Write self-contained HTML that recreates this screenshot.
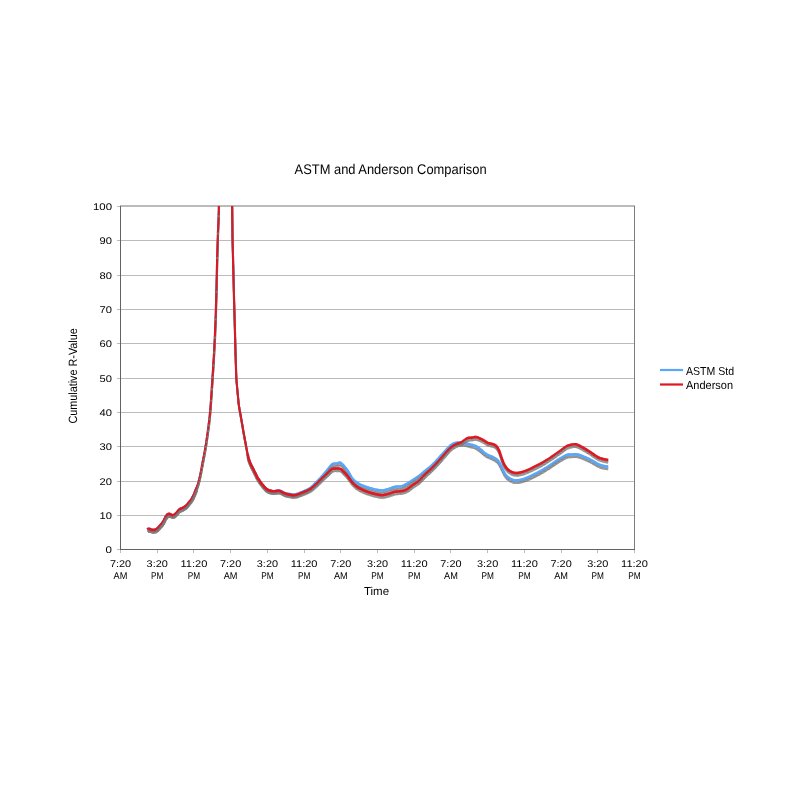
<!DOCTYPE html>
<html><head><meta charset="utf-8"><style>
html,body{margin:0;padding:0;background:#fff;}
body{width:800px;height:800px;overflow:hidden;position:relative;}
svg{position:absolute;left:0;top:0;will-change:transform;}
text{font-family:"Liberation Sans",sans-serif;fill:#000;text-rendering:geometricPrecision;}
.g{stroke:#bbbbbb;stroke-width:1;}
.ax{stroke:#626262;stroke-width:1;}
.rb{stroke:#7c7c7c;stroke-width:1;}
.xt{stroke:#bcbcbc;stroke-width:1;}
.yl{font-size:9.7px;text-anchor:end;fill:#000;}
.xl{font-size:9.7px;text-anchor:middle;fill:#000;}
.sh{fill:none;stroke:#7a7a7a;stroke-width:2.6;stroke-linejoin:round;stroke-linecap:butt;}
.s{fill:none;stroke:#7a7a7a;stroke-width:2.6;stroke-linecap:butt;transform:translate(0.2px,2.4px);}
.bl{fill:none;stroke:#5aa6f8;stroke-width:2.5;stroke-linejoin:round;stroke-linecap:butt;}
.rd{fill:none;stroke:#dc1820;stroke-width:2.5;stroke-linejoin:round;stroke-linecap:butt;}
</style></head><body>
<svg width="800" height="800" viewBox="0 0 800 800">
<defs><clipPath id="pc"><rect x="120" y="206" width="514" height="343"/></clipPath></defs>
<g><line x1="117" y1="515.5" x2="634" y2="515.5" class="g"/><line x1="117" y1="481.5" x2="634" y2="481.5" class="g"/><line x1="117" y1="446.5" x2="634" y2="446.5" class="g"/><line x1="117" y1="412.5" x2="634" y2="412.5" class="g"/><line x1="117" y1="378.5" x2="634" y2="378.5" class="g"/><line x1="117" y1="343.5" x2="634" y2="343.5" class="g"/><line x1="117" y1="309.5" x2="634" y2="309.5" class="g"/><line x1="117" y1="275.5" x2="634" y2="275.5" class="g"/><line x1="117" y1="240.5" x2="634" y2="240.5" class="g"/></g>
<rect x="120" y="205" width="515" height="2" fill="#bbbbbb"/>
<line x1="117" y1="206.5" x2="120" y2="206.5" class="g"/>
<line x1="634.5" y1="206" x2="634.5" y2="550" class="rb"/>
<line x1="120" y1="549.5" x2="635" y2="549.5" class="ax"/>
<line x1="117" y1="549.5" x2="120" y2="549.5" class="g"/>
<line x1="120.5" y1="206" x2="120.5" y2="550" class="ax"/>
<g><line x1="120.5" y1="550" x2="120.5" y2="553" class="xt"/><line x1="157.5" y1="550" x2="157.5" y2="553" class="xt"/><line x1="193.5" y1="550" x2="193.5" y2="553" class="xt"/><line x1="230.5" y1="550" x2="230.5" y2="553" class="xt"/><line x1="267.5" y1="550" x2="267.5" y2="553" class="xt"/><line x1="304.5" y1="550" x2="304.5" y2="553" class="xt"/><line x1="340.5" y1="550" x2="340.5" y2="553" class="xt"/><line x1="377.5" y1="550" x2="377.5" y2="553" class="xt"/><line x1="414.5" y1="550" x2="414.5" y2="553" class="xt"/><line x1="450.5" y1="550" x2="450.5" y2="553" class="xt"/><line x1="487.5" y1="550" x2="487.5" y2="553" class="xt"/><line x1="524.5" y1="550" x2="524.5" y2="553" class="xt"/><line x1="561.5" y1="550" x2="561.5" y2="553" class="xt"/><line x1="597.5" y1="550" x2="597.5" y2="553" class="xt"/><line x1="634.5" y1="550" x2="634.5" y2="553" class="xt"/></g>
<g clip-path="url(#pc)">
<path d="M147.54 529.38L148.30 528.77" class="s"/><path d="M147.30 529.56L148.54 528.59" class="bl"/><path d="M148.30 528.77L149.07 528.82" class="s"/><path d="M148.00 528.76L149.36 528.84" class="bl"/><path d="M149.07 528.82L149.83 529.10" class="s"/><path d="M148.78 528.71L150.11 529.20" class="bl"/><path d="M149.83 529.10L150.60 529.43" class="s"/><path d="M149.55 528.98L150.87 529.54" class="bl"/><path d="M150.60 529.43L151.36 529.72" class="s"/><path d="M150.32 529.32L151.64 529.83" class="bl"/><path d="M151.36 529.72L152.12 529.94" class="s"/><path d="M151.07 529.64L152.41 530.03" class="bl"/><path d="M152.12 529.94L152.89 530.03" class="s"/><path d="M151.83 529.91L153.19 530.06" class="bl"/><path d="M152.89 530.03L153.65 530.06" class="s"/><path d="M152.59 530.02L153.95 530.07" class="bl"/><path d="M153.65 530.06L154.42 530.01" class="s"/><path d="M153.36 530.07L154.72 529.99" class="bl"/><path d="M154.42 530.01L155.18 529.86" class="s"/><path d="M154.13 530.07L155.48 529.80" class="bl"/><path d="M155.18 529.86L155.95 529.56" class="s"/><path d="M154.90 529.96L156.23 529.45" class="bl"/><path d="M155.95 529.56L156.71 529.08" class="s"/><path d="M155.69 529.72L156.97 528.93" class="bl"/><path d="M156.71 529.08L157.48 528.41" class="s"/><path d="M156.49 529.28L157.70 528.21" class="bl"/><path d="M157.48 528.41L158.24 527.61" class="s"/><path d="M157.27 528.63L158.45 527.39" class="bl"/><path d="M158.24 527.61L159.01 526.73" class="s"/><path d="M158.05 527.83L159.21 526.51" class="bl"/><path d="M159.01 526.73L159.77 525.85" class="s"/><path d="M158.81 526.96L159.97 525.62" class="bl"/><path d="M159.77 525.85L160.54 525.02" class="s"/><path d="M159.57 526.07L160.74 524.80" class="bl"/><path d="M160.54 525.02L161.30 524.19" class="s"/><path d="M160.34 525.24L161.51 523.97" class="bl"/><path d="M161.30 524.19L162.07 523.31" class="s"/><path d="M161.11 524.41L162.27 523.08" class="bl"/><path d="M162.07 523.31L162.83 522.30" class="s"/><path d="M161.89 523.55L163.01 522.06" class="bl"/><path d="M162.83 522.30L163.60 521.03" class="s"/><path d="M162.68 522.56L163.75 520.77" class="bl"/><path d="M163.60 521.03L164.36 519.40" class="s"/><path d="M163.47 521.30L164.49 519.13" class="bl"/><path d="M164.36 519.40L165.13 517.74" class="s"/><path d="M164.24 519.67L165.25 517.47" class="bl"/><path d="M165.13 517.74L165.89 516.46" class="s"/><path d="M164.97 518.00L166.05 516.20" class="bl"/><path d="M165.89 516.46L166.66 515.45" class="s"/><path d="M165.71 516.70L166.84 515.21" class="bl"/><path d="M166.66 515.45L167.42 514.64" class="s"/><path d="M166.45 515.67L167.63 514.42" class="bl"/><path d="M167.42 514.64L168.19 514.05" class="s"/><path d="M167.19 514.82L168.42 513.86" class="bl"/><path d="M168.19 514.05L168.95 513.84" class="s"/><path d="M167.90 514.12L169.24 513.77" class="bl"/><path d="M168.95 513.84L169.72 514.03" class="s"/><path d="M168.66 513.78L170.01 514.09" class="bl"/><path d="M169.72 514.03L170.48 514.29" class="s"/><path d="M169.43 513.93L170.77 514.38" class="bl"/><path d="M170.48 514.29L171.25 514.71" class="s"/><path d="M170.22 514.14L171.51 514.86" class="bl"/><path d="M171.25 514.71L172.01 515.10" class="s"/><path d="M170.98 514.57L172.28 515.24" class="bl"/><path d="M172.01 515.10L172.78 515.31" class="s"/><path d="M171.72 515.03L173.07 515.39" class="bl"/><path d="M172.78 515.31L173.54 515.18" class="s"/><path d="M172.48 515.36L173.84 515.13" class="bl"/><path d="M173.54 515.18L174.31 514.77" class="s"/><path d="M173.28 515.32L174.57 514.63" class="bl"/><path d="M174.31 514.77L175.07 514.18" class="s"/><path d="M174.07 514.95L175.31 514.00" class="bl"/><path d="M175.07 514.18L175.84 513.49" class="s"/><path d="M174.85 514.38L176.06 513.29" class="bl"/><path d="M175.84 513.49L176.60 512.74" class="s"/><path d="M175.62 513.70L176.82 512.53" class="bl"/><path d="M176.60 512.74L177.37 511.81" class="s"/><path d="M176.41 512.97L177.56 511.57" class="bl"/><path d="M177.37 511.81L178.13 510.80" class="s"/><path d="M177.18 512.04L178.31 510.56" class="bl"/><path d="M178.13 510.80L178.90 509.88" class="s"/><path d="M177.94 511.03L179.09 509.65" class="bl"/><path d="M178.90 509.88L179.66 509.21" class="s"/><path d="M178.67 510.07L179.89 509.01" class="bl"/><path d="M179.66 509.21L180.43 508.83" class="s"/><path d="M179.39 509.34L180.69 508.70" class="bl"/><path d="M180.43 508.83L181.19 508.60" class="s"/><path d="M180.14 508.92L181.48 508.51" class="bl"/><path d="M181.19 508.60L181.96 508.35" class="s"/><path d="M180.90 508.69L182.24 508.26" class="bl"/><path d="M181.96 508.35L182.72 507.98" class="s"/><path d="M181.69 508.49L182.99 507.84" class="bl"/><path d="M182.72 507.98L183.49 507.54" class="s"/><path d="M182.46 508.13L183.75 507.39" class="bl"/><path d="M183.49 507.54L184.25 507.08" class="s"/><path d="M183.23 507.70L184.51 506.92" class="bl"/><path d="M184.25 507.08L185.01 506.57" class="s"/><path d="M184.00 507.24L185.26 506.40" class="bl"/><path d="M185.01 506.57L185.78 506.00" class="s"/><path d="M184.77 506.75L186.02 505.82" class="bl"/><path d="M185.78 506.00L186.54 505.33" class="s"/><path d="M185.55 506.20L186.77 505.13" class="bl"/><path d="M186.54 505.33L187.31 504.52" class="s"/><path d="M186.34 505.54L187.52 504.31" class="bl"/><path d="M187.31 504.52L188.07 503.61" class="s"/><path d="M187.12 504.75L188.27 503.38" class="bl"/><path d="M188.07 503.61L188.84 502.63" class="s"/><path d="M187.89 503.85L189.02 502.39" class="bl"/><path d="M188.84 502.63L189.60 501.64" class="s"/><path d="M188.66 502.87L189.79 501.40" class="bl"/><path d="M189.60 501.64L190.37 500.70" class="s"/><path d="M189.41 501.87L190.56 500.47" class="bl"/><path d="M190.37 500.70L191.13 499.72" class="s"/><path d="M190.18 500.94L191.32 499.48" class="bl"/><path d="M191.13 499.72L191.90 498.57" class="s"/><path d="M190.97 499.97L192.07 498.32" class="bl"/><path d="M191.90 498.57L192.66 497.18" class="s"/><path d="M191.75 498.83L192.81 496.92" class="bl"/><path d="M192.66 497.18L193.43 495.61" class="s"/><path d="M192.53 497.45L193.56 495.34" class="bl"/><path d="M193.43 495.61L194.19 493.92" class="s"/><path d="M193.31 495.88L194.32 493.65" class="bl"/><path d="M194.19 493.92L194.96 492.11" class="s"/><path d="M194.08 494.19L195.08 491.83" class="bl"/><path d="M194.96 492.11L195.72 490.17" class="s"/><path d="M194.85 492.39L195.83 489.89" class="bl"/><path d="M195.72 490.17L196.49 488.09" class="s"/><path d="M195.62 490.46L196.59 487.80" class="bl"/><path d="M196.49 488.09L197.25 485.90" class="s" style="stroke-width:2.0"/><path d="M196.39 488.37L197.35 485.62" class="bl" style="stroke-width:2.0"/><path d="M197.25 485.90L198.02 483.54" class="s" style="stroke-width:2.0"/><path d="M197.16 486.19L198.11 483.26" class="bl" style="stroke-width:2.0"/><path d="M198.02 483.54L198.78 480.87" class="s" style="stroke-width:2.0"/><path d="M197.94 483.83L198.87 480.58" class="bl" style="stroke-width:2.0"/><path d="M198.78 480.87L199.55 477.79" class="s" style="stroke-width:2.0"/><path d="M198.71 481.16L199.62 477.50" class="bl" style="stroke-width:2.0"/><path d="M199.55 477.79L200.31 474.24" class="s" style="stroke-width:2.0"/><path d="M199.48 478.09L200.38 473.95" class="bl" style="stroke-width:2.0"/><path d="M200.31 474.24L201.08 470.33" class="s" style="stroke-width:2.0"/><path d="M200.25 474.54L201.14 470.04" class="bl" style="stroke-width:2.0"/><path d="M201.08 470.33L201.84 466.24" class="s" style="stroke-width:2.0"/><path d="M201.02 470.63L201.90 465.94" class="bl" style="stroke-width:2.0"/><path d="M201.84 466.24L202.61 462.09" class="s" style="stroke-width:2.0"/><path d="M201.79 466.53L202.66 461.80" class="bl" style="stroke-width:2.0"/><path d="M202.61 462.09L203.37 458.05" class="s" style="stroke-width:2.0"/><path d="M202.55 462.39L203.43 457.76" class="bl" style="stroke-width:2.0"/><path d="M203.37 458.05L204.14 454.06" class="s" style="stroke-width:2.0"/><path d="M203.32 458.35L204.19 453.77" class="bl" style="stroke-width:2.0"/><path d="M204.14 454.06L204.90 449.95" class="s" style="stroke-width:2.0"/><path d="M204.08 454.36L204.96 449.65" class="bl" style="stroke-width:2.0"/><path d="M204.90 449.95L205.67 445.49" class="s" style="stroke-width:2.0"/><path d="M204.85 450.24L205.72 445.20" class="bl" style="stroke-width:2.0"/><path d="M205.67 445.49L206.43 440.65" class="s" style="stroke-width:2.0"/><path d="M205.62 445.79L206.48 440.35" class="bl" style="stroke-width:2.0"/><path d="M206.43 440.65L207.20 435.27" class="s" style="stroke-width:2.0"/><path d="M206.39 440.94L207.24 434.97" class="bl" style="stroke-width:2.0"/><path d="M207.20 435.27L207.96 429.63" class="s" style="stroke-width:2.0"/><path d="M207.16 435.56L208.00 429.33" class="bl" style="stroke-width:2.0"/><path d="M207.96 429.63L208.73 424.03" class="s" style="stroke-width:2.0"/><path d="M207.92 429.92L208.77 423.74" class="bl" style="stroke-width:2.0"/><path d="M208.73 424.03L209.49 417.66" class="s" style="stroke-width:2.0"/><path d="M208.69 424.33L209.53 417.36" class="bl" style="stroke-width:2.0"/><path d="M209.49 417.66L210.26 409.51" class="s" style="stroke-width:2.0"/><path d="M209.46 417.95L210.28 409.21" class="bl" style="stroke-width:2.0"/><path d="M210.26 409.51L211.02 399.28" class="s" style="stroke-width:2.0"/><path d="M210.23 409.81L211.04 398.98" class="bl" style="stroke-width:2.0"/><path d="M211.02 399.28L211.79 387.81" class="s" style="stroke-width:2.0"/><path d="M211.00 399.58L211.81 387.51" class="bl" style="stroke-width:2.0"/><path d="M211.79 387.81L212.55 375.98" class="s" style="stroke-width:2.0"/><path d="M211.77 388.11L212.57 375.68" class="bl" style="stroke-width:2.0"/><path d="M212.55 375.98L213.32 363.97" class="s" style="stroke-width:2.0"/><path d="M212.53 376.28L213.33 363.67" class="bl" style="stroke-width:2.0"/><path d="M213.32 363.97L214.08 351.12" class="s" style="stroke-width:2.0"/><path d="M213.30 364.27L214.10 350.82" class="bl" style="stroke-width:2.0"/><path d="M214.08 351.12L214.85 336.24" class="s" style="stroke-width:2.0"/><path d="M214.06 351.42L214.86 335.94" class="bl" style="stroke-width:2.0"/><path d="M214.85 336.24L215.61 317.91" class="s" style="stroke-width:2.0"/><path d="M214.83 336.54L215.62 317.61" class="bl" style="stroke-width:2.0"/><path d="M215.61 317.91L216.38 290.36" class="s" style="stroke-width:2.0"/><path d="M215.60 318.21L216.38 290.06" class="bl" style="stroke-width:2.0"/><path d="M216.38 290.36L217.14 256.68" class="s" style="stroke-width:2.0"/><path d="M216.37 290.66L217.15 256.38" class="bl" style="stroke-width:2.0"/><path d="M217.14 256.68L217.90 232.26" class="s" style="stroke-width:2.0"/><path d="M217.13 256.98L217.91 231.96" class="bl" style="stroke-width:2.0"/><path d="M217.90 232.26L218.67 214.81" class="s" style="stroke-width:2.0"/><path d="M217.89 232.56L218.68 214.51" class="bl" style="stroke-width:2.0"/><path d="M218.67 214.81L219.43 168.85" class="s" style="stroke-width:2.0"/><path d="M218.66 215.11L219.44 168.55" class="bl" style="stroke-width:2.0"/><path d="M219.43 168.85L220.20 153.44" class="s" style="stroke-width:2.0"/><path d="M219.42 169.15L220.21 153.14" class="bl" style="stroke-width:2.0"/><path d="M220.20 153.44L220.96 148.88" class="s" style="stroke-width:2.0"/><path d="M220.15 153.74L221.01 148.58" class="bl" style="stroke-width:2.0"/><path d="M220.96 148.88L221.73 146.62" class="s" style="stroke-width:2.0"/><path d="M220.87 149.16L221.83 146.34" class="bl" style="stroke-width:2.0"/><path d="M221.73 146.62L222.49 145.17" class="s" style="stroke-width:2.0"/><path d="M221.59 146.89L222.63 144.90" class="bl" style="stroke-width:2.0"/><path d="M222.49 145.17L223.26 144.18" class="s" style="stroke-width:2.0"/><path d="M222.31 145.40L223.44 143.94" class="bl" style="stroke-width:2.0"/><path d="M223.26 144.18L224.02 143.53" class="s" style="stroke-width:2.0"/><path d="M223.03 144.37L224.25 143.33" class="bl" style="stroke-width:2.0"/><path d="M224.02 143.53L224.79 143.14" class="s" style="stroke-width:2.0"/><path d="M223.76 143.66L225.06 143.01" class="bl" style="stroke-width:2.0"/><path d="M224.79 143.14L225.55 143.00" class="s" style="stroke-width:2.0"/><path d="M224.49 143.20L225.85 142.95" class="bl" style="stroke-width:2.0"/><path d="M225.55 143.00L226.32 143.10" class="s" style="stroke-width:2.0"/><path d="M225.26 142.97L226.62 143.14" class="bl" style="stroke-width:2.0"/><path d="M226.32 143.10L227.08 143.43" class="s" style="stroke-width:2.0"/><path d="M226.04 142.98L227.36 143.55" class="bl" style="stroke-width:2.0"/><path d="M227.08 143.43L227.85 144.04" class="s" style="stroke-width:2.0"/><path d="M226.85 143.25L228.08 144.23" class="bl" style="stroke-width:2.0"/><path d="M227.85 144.04L228.61 144.98" class="s" style="stroke-width:2.0"/><path d="M227.66 143.81L228.80 145.21" class="bl" style="stroke-width:2.0"/><path d="M228.61 144.98L229.38 146.36" class="s" style="stroke-width:2.0"/><path d="M228.47 144.71L229.52 146.62" class="bl" style="stroke-width:2.0"/><path d="M229.38 146.36L230.14 148.50" class="s" style="stroke-width:2.0"/><path d="M229.28 146.07L230.24 148.78" class="bl" style="stroke-width:2.0"/><path d="M230.14 148.50L230.91 152.79" class="s" style="stroke-width:2.0"/><path d="M230.09 148.20L230.96 153.09" class="bl" style="stroke-width:2.0"/><path d="M230.91 152.79L231.67 170.34" class="s" style="stroke-width:2.0"/><path d="M230.89 152.49L231.69 170.64" class="bl" style="stroke-width:2.0"/><path d="M231.67 170.34L232.44 237.53" class="s" style="stroke-width:2.0"/><path d="M231.67 170.04L232.44 237.83" class="bl" style="stroke-width:2.0"/><path d="M232.44 237.53L233.20 267.67" class="s" style="stroke-width:2.0"/><path d="M232.43 237.23L233.21 267.97" class="bl" style="stroke-width:2.0"/><path d="M233.20 267.67L233.97 298.73" class="s" style="stroke-width:2.0"/><path d="M233.19 267.37L233.97 299.03" class="bl" style="stroke-width:2.0"/><path d="M233.97 298.73L234.73 324.98" class="s" style="stroke-width:2.0"/><path d="M233.96 298.43L234.74 325.28" class="bl" style="stroke-width:2.0"/><path d="M234.73 324.98L235.50 354.74" class="s" style="stroke-width:2.0"/><path d="M234.72 324.68L235.50 355.04" class="bl" style="stroke-width:2.0"/><path d="M235.50 354.74L236.26 377.84" class="s" style="stroke-width:2.0"/><path d="M235.49 354.44L236.27 378.14" class="bl" style="stroke-width:2.0"/><path d="M236.26 377.84L237.03 386.40" class="s" style="stroke-width:2.0"/><path d="M236.24 377.54L237.05 386.70" class="bl" style="stroke-width:2.0"/><path d="M237.03 386.40L237.79 394.30" class="s" style="stroke-width:2.0"/><path d="M237.00 386.11L237.82 394.60" class="bl" style="stroke-width:2.0"/><path d="M237.79 394.30L238.56 402.83" class="s" style="stroke-width:2.0"/><path d="M237.76 394.00L238.58 403.13" class="bl" style="stroke-width:2.0"/><path d="M238.56 402.83L239.32 407.99" class="s" style="stroke-width:2.0"/><path d="M238.51 402.53L239.37 408.29" class="bl" style="stroke-width:2.0"/><path d="M239.32 407.99L240.09 412.04" class="s" style="stroke-width:2.0"/><path d="M239.27 407.70L240.14 412.33" class="bl" style="stroke-width:2.0"/><path d="M240.09 412.04L240.85 416.17" class="s" style="stroke-width:2.0"/><path d="M240.03 411.74L240.91 416.47" class="bl" style="stroke-width:2.0"/><path d="M240.85 416.17L241.62 420.58" class="s" style="stroke-width:2.0"/><path d="M240.80 415.88L241.67 420.88" class="bl" style="stroke-width:2.0"/><path d="M241.62 420.58L242.38 425.21" class="s" style="stroke-width:2.0"/><path d="M241.57 420.29L242.43 425.50" class="bl" style="stroke-width:2.0"/><path d="M242.38 425.21L243.15 429.66" class="s" style="stroke-width:2.0"/><path d="M242.33 424.91L243.20 429.95" class="bl" style="stroke-width:2.0"/><path d="M243.15 429.66L243.91 433.92" class="s" style="stroke-width:2.0"/><path d="M243.09 429.36L243.96 434.22" class="bl" style="stroke-width:2.0"/><path d="M243.91 433.92L244.68 438.12" class="s" style="stroke-width:2.0"/><path d="M243.86 433.62L244.73 438.41" class="bl" style="stroke-width:2.0"/><path d="M244.68 438.12L245.44 442.28" class="s" style="stroke-width:2.0"/><path d="M244.62 437.82L245.49 442.58" class="bl" style="stroke-width:2.0"/><path d="M245.44 442.28L246.21 446.43" class="s" style="stroke-width:2.0"/><path d="M245.39 441.99L246.26 446.72" class="bl" style="stroke-width:2.0"/><path d="M246.21 446.43L246.97 450.53" class="s" style="stroke-width:2.0"/><path d="M246.15 446.13L247.03 450.83" class="bl" style="stroke-width:2.0"/><path d="M246.97 450.53L247.74 454.59" class="s" style="stroke-width:2.0"/><path d="M246.91 450.24L247.79 454.89" class="bl" style="stroke-width:2.0"/><path d="M247.74 454.59L248.50 458.38" class="s"/><path d="M247.68 454.30L248.56 458.67" class="bl"/><path d="M248.50 458.38L249.26 460.44" class="s"/><path d="M248.40 458.10L249.37 460.73" class="bl"/><path d="M249.26 460.44L250.03 462.40" class="s"/><path d="M249.16 460.16L250.14 462.68" class="bl"/><path d="M250.03 462.40L250.79 464.18" class="s"/><path d="M249.91 462.13L250.91 464.45" class="bl"/><path d="M250.79 464.18L251.56 465.75" class="s"/><path d="M250.66 463.91L251.69 466.02" class="bl"/><path d="M251.56 465.75L252.32 467.23" class="s"/><path d="M251.42 465.48L252.46 467.50" class="bl"/><path d="M252.32 467.23L253.09 468.70" class="s"/><path d="M252.19 466.97L253.23 468.97" class="bl"/><path d="M253.09 468.70L253.85 470.21" class="s"/><path d="M252.95 468.44L253.99 470.48" class="bl"/><path d="M253.85 470.21L254.62 471.78" class="s"/><path d="M253.72 469.94L254.75 472.05" class="bl"/><path d="M254.62 471.78L255.38 473.37" class="s"/><path d="M254.49 471.51L255.51 473.64" class="bl"/><path d="M255.38 473.37L256.15 474.94" class="s"/><path d="M255.25 473.10L256.28 475.21" class="bl"/><path d="M256.15 474.94L256.91 476.43" class="s"/><path d="M256.01 474.67L257.05 476.70" class="bl"/><path d="M256.91 476.43L257.68 477.81" class="s"/><path d="M256.77 476.17L257.82 478.07" class="bl"/><path d="M257.68 477.81L258.44 479.07" class="s"/><path d="M257.52 477.55L258.60 479.33" class="bl"/><path d="M258.44 479.07L259.21 480.25" class="s"/><path d="M258.28 478.82L259.37 480.50" class="bl"/><path d="M259.21 480.25L259.97 481.35" class="s"/><path d="M259.04 480.00L260.14 481.60" class="bl"/><path d="M259.97 481.35L260.74 482.41" class="s"/><path d="M259.80 481.11L260.91 482.65" class="bl"/><path d="M260.74 482.41L261.50 483.43" class="s"/><path d="M260.56 482.17L261.68 483.67" class="bl"/><path d="M261.50 483.43L262.27 484.41" class="s"/><path d="M261.32 483.20L262.45 484.65" class="bl"/><path d="M262.27 484.41L263.03 485.34" class="s"/><path d="M262.08 484.18L263.22 485.57" class="bl"/><path d="M263.03 485.34L263.80 486.22" class="s"/><path d="M262.84 485.11L263.99 486.44" class="bl"/><path d="M263.80 486.22L264.56 487.05" class="s"/><path d="M263.59 486.00L264.77 487.27" class="bl"/><path d="M264.56 487.05L265.33 487.83" class="s"/><path d="M264.35 486.83L265.54 488.05" class="bl"/><path d="M265.33 487.83L266.09 488.60" class="s"/><path d="M265.12 487.62L266.30 488.81" class="bl"/><path d="M266.09 488.60L266.86 489.26" class="s"/><path d="M265.87 488.40L267.08 489.46" class="bl"/><path d="M266.86 489.26L267.62 489.76" class="s"/><path d="M266.61 489.10L267.87 489.92" class="bl"/><path d="M267.62 489.76L268.39 490.13" class="s"/><path d="M267.35 489.63L268.66 490.26" class="bl"/><path d="M268.39 490.13L269.15 490.42" class="s"/><path d="M268.11 490.02L269.43 490.52" class="bl"/><path d="M269.15 490.42L269.92 490.66" class="s"/><path d="M268.87 490.33L270.20 490.75" class="bl"/><path d="M269.92 490.66L270.68 490.86" class="s"/><path d="M269.63 490.58L270.97 490.94" class="bl"/><path d="M270.68 490.86L271.45 491.03" class="s"/><path d="M270.39 490.80L271.74 491.09" class="bl"/><path d="M271.45 491.03L272.21 491.16" class="s"/><path d="M271.15 490.98L272.51 491.21" class="bl"/><path d="M272.21 491.16L272.98 491.24" class="s"/><path d="M271.91 491.12L273.27 491.27" class="bl"/><path d="M272.98 491.24L273.74 491.25" class="s"/><path d="M272.68 491.24L274.04 491.26" class="bl"/><path d="M273.74 491.25L274.51 491.17" class="s"/><path d="M273.44 491.28L274.80 491.14" class="bl"/><path d="M274.51 491.17L275.27 491.04" class="s"/><path d="M274.21 491.23L275.57 490.98" class="bl"/><path d="M275.27 491.04L276.04 490.87" class="s"/><path d="M274.98 491.10L276.33 490.80" class="bl"/><path d="M276.04 490.87L276.80 490.70" class="s"/><path d="M275.74 490.93L277.09 490.64" class="bl"/><path d="M276.80 490.70L277.57 490.59" class="s"/><path d="M276.50 490.74L277.86 490.55" class="bl"/><path d="M277.57 490.59L278.33 490.50" class="s"/><path d="M277.27 490.63L278.63 490.46" class="bl"/><path d="M278.33 490.50L279.10 490.47" class="s"/><path d="M278.03 490.51L279.40 490.45" class="bl"/><path d="M279.10 490.47L279.86 490.65" class="s"/><path d="M278.80 490.40L280.15 490.72" class="bl"/><path d="M279.86 490.65L280.62 490.97" class="s"/><path d="M279.58 490.54L280.90 491.08" class="bl"/><path d="M280.62 490.97L281.39 491.36" class="s"/><path d="M280.36 490.83L281.66 491.50" class="bl"/><path d="M281.39 491.36L282.15 491.79" class="s"/><path d="M281.13 491.22L282.42 491.94" class="bl"/><path d="M282.15 491.79L282.92 492.22" class="s"/><path d="M281.89 491.65L283.18 492.37" class="bl"/><path d="M282.92 492.22L283.68 492.63" class="s"/><path d="M282.65 492.08L283.95 492.77" class="bl"/><path d="M283.68 492.63L284.45 492.99" class="s"/><path d="M283.41 492.50L284.72 493.11" class="bl"/><path d="M284.45 492.99L285.21 493.27" class="s"/><path d="M284.17 492.88L285.50 493.37" class="bl"/><path d="M285.21 493.27L285.98 493.49" class="s"/><path d="M284.93 493.19L286.27 493.57" class="bl"/><path d="M285.98 493.49L286.74 493.66" class="s"/><path d="M285.69 493.42L287.04 493.72" class="bl"/><path d="M286.74 493.66L287.51 493.79" class="s"/><path d="M286.45 493.60L287.80 493.84" class="bl"/><path d="M287.51 493.79L288.27 493.90" class="s"/><path d="M287.21 493.75L288.57 493.94" class="bl"/><path d="M288.27 493.90L289.04 493.99" class="s"/><path d="M287.98 493.86L289.34 494.02" class="bl"/><path d="M289.04 493.99L289.80 494.08" class="s"/><path d="M288.74 493.95L290.10 494.11" class="bl"/><path d="M289.80 494.08L290.57 494.18" class="s"/><path d="M289.51 494.04L290.87 494.22" class="bl"/><path d="M290.57 494.18L291.33 494.31" class="s"/><path d="M290.27 494.13L291.63 494.36" class="bl"/><path d="M291.33 494.31L292.10 494.44" class="s"/><path d="M291.04 494.26L292.39 494.48" class="bl"/><path d="M292.10 494.44L292.86 494.52" class="s"/><path d="M291.80 494.40L293.16 494.55" class="bl"/><path d="M292.86 494.52L293.63 494.54" class="s"/><path d="M292.56 494.51L293.93 494.55" class="bl"/><path d="M293.63 494.54L294.39 494.49" class="s"/><path d="M293.33 494.56L294.69 494.47" class="bl"/><path d="M294.39 494.49L295.16 494.37" class="s"/><path d="M294.10 494.54L295.45 494.32" class="bl"/><path d="M295.16 494.37L295.92 494.19" class="s"/><path d="M294.87 494.44L296.21 494.13" class="bl"/><path d="M295.92 494.19L296.69 493.98" class="s"/><path d="M295.63 494.27L296.98 493.90" class="bl"/><path d="M296.69 493.98L297.45 493.74" class="s"/><path d="M296.40 494.07L297.74 493.65" class="bl"/><path d="M297.45 493.74L298.22 493.48" class="s"/><path d="M297.17 493.84L298.50 493.38" class="bl"/><path d="M298.22 493.48L298.98 493.20" class="s"/><path d="M297.94 493.58L299.26 493.10" class="bl"/><path d="M298.98 493.20L299.75 492.91" class="s"/><path d="M298.70 493.31L300.03 492.80" class="bl"/><path d="M299.75 492.91L300.51 492.61" class="s"/><path d="M299.47 493.02L300.79 492.50" class="bl"/><path d="M300.51 492.61L301.28 492.30" class="s"/><path d="M300.23 492.72L301.56 492.19" class="bl"/><path d="M301.28 492.30L302.04 491.99" class="s"/><path d="M301.00 492.42L302.32 491.88" class="bl"/><path d="M302.04 491.99L302.81 491.67" class="s"/><path d="M301.76 492.10L303.08 491.56" class="bl"/><path d="M302.81 491.67L303.57 491.35" class="s"/><path d="M302.53 491.79L303.85 491.24" class="bl"/><path d="M303.57 491.35L304.34 491.03" class="s"/><path d="M303.30 491.47L304.61 490.91" class="bl"/><path d="M304.34 491.03L305.10 490.70" class="s"/><path d="M304.06 491.15L305.38 490.58" class="bl"/><path d="M305.10 490.70L305.87 490.36" class="s"/><path d="M304.83 490.82L306.14 490.24" class="bl"/><path d="M305.87 490.36L306.63 490.01" class="s"/><path d="M305.59 490.49L306.90 489.88" class="bl"/><path d="M306.63 490.01L307.40 489.64" class="s"/><path d="M306.36 490.14L307.67 489.51" class="bl"/><path d="M307.40 489.64L308.16 489.26" class="s"/><path d="M307.13 489.78L308.43 489.12" class="bl"/><path d="M308.16 489.26L308.93 488.84" class="s"/><path d="M307.90 489.40L309.19 488.70" class="bl"/><path d="M308.93 488.84L309.69 488.40" class="s"/><path d="M308.67 489.00L309.95 488.24" class="bl"/><path d="M309.69 488.40L310.46 487.89" class="s"/><path d="M309.44 488.56L310.71 487.72" class="bl"/><path d="M310.46 487.89L311.22 487.30" class="s"/><path d="M310.22 488.07L311.46 487.12" class="bl"/><path d="M311.22 487.30L311.99 486.61" class="s"/><path d="M311.00 487.50L312.21 486.41" class="bl"/><path d="M311.99 486.61L312.75 485.83" class="s"/><path d="M311.78 486.82L312.96 485.61" class="bl"/><path d="M312.75 485.83L313.51 485.01" class="s"/><path d="M312.55 486.05L313.72 484.79" class="bl"/><path d="M313.51 485.01L314.28 484.22" class="s"/><path d="M313.31 485.22L314.49 484.00" class="bl"/><path d="M314.28 484.22L315.04 483.47" class="s"/><path d="M314.06 484.43L315.26 483.26" class="bl"/><path d="M315.04 483.47L315.81 482.74" class="s"/><path d="M314.83 483.68L316.03 482.53" class="bl"/><path d="M315.81 482.74L316.57 482.00" class="s"/><path d="M315.59 482.94L316.79 481.79" class="bl"/><path d="M316.57 482.00L317.34 481.24" class="s"/><path d="M316.36 482.21L317.55 481.03" class="bl"/><path d="M317.34 481.24L318.10 480.48" class="s"/><path d="M317.13 481.46L318.32 480.27" class="bl"/><path d="M318.10 480.48L318.87 479.70" class="s"/><path d="M317.89 480.70L319.08 479.48" class="bl"/><path d="M318.87 479.70L319.63 478.89" class="s"/><path d="M318.66 479.92L319.84 478.68" class="bl"/><path d="M319.63 478.89L320.40 478.06" class="s"/><path d="M319.43 479.11L320.60 477.84" class="bl"/><path d="M320.40 478.06L321.16 477.21" class="s"/><path d="M320.20 478.29L321.36 476.99" class="bl"/><path d="M321.16 477.21L321.93 476.34" class="s"/><path d="M320.97 477.44L322.13 476.12" class="bl"/><path d="M321.93 476.34L322.69 475.46" class="s"/><path d="M321.73 476.57L322.89 475.24" class="bl"/><path d="M322.69 475.46L323.46 474.57" class="s"/><path d="M322.50 475.69L323.65 474.35" class="bl"/><path d="M323.46 474.57L324.22 473.68" class="s"/><path d="M323.26 474.80L324.42 473.45" class="bl"/><path d="M324.22 473.68L324.99 472.78" class="s"/><path d="M324.03 473.91L325.18 472.55" class="bl"/><path d="M324.99 472.78L325.75 471.88" class="s"/><path d="M324.79 473.01L325.95 471.65" class="bl"/><path d="M325.75 471.88L326.52 470.98" class="s"/><path d="M325.56 472.11L326.71 470.75" class="bl"/><path d="M326.52 470.98L327.28 470.06" class="s"/><path d="M326.33 471.21L327.48 469.83" class="bl"/><path d="M327.28 470.06L328.05 469.12" class="s"/><path d="M327.09 470.30L328.24 468.89" class="bl"/><path d="M328.05 469.12L328.81 468.17" class="s"/><path d="M327.86 469.36L329.00 467.94" class="bl"/><path d="M328.81 468.17L329.58 467.22" class="s"/><path d="M328.62 468.40L329.77 466.99" class="bl"/><path d="M329.58 467.22L330.34 466.29" class="s"/><path d="M329.39 467.45L330.53 466.06" class="bl"/><path d="M330.34 466.29L331.11 465.41" class="s"/><path d="M330.15 466.52L331.30 465.19" class="bl"/><path d="M331.11 465.41L331.87 464.64" class="s"/><path d="M330.90 465.63L332.08 464.42" class="bl"/><path d="M331.87 464.64L332.64 464.00" class="s"/><path d="M331.64 464.83L332.87 463.81" class="bl"/><path d="M332.64 464.00L333.40 463.65" class="s"/><path d="M332.37 464.13L333.67 463.52" class="bl"/><path d="M333.40 463.65L334.17 463.47" class="s"/><path d="M333.11 463.71L334.46 463.40" class="bl"/><path d="M334.17 463.47L334.93 463.50" class="s"/><path d="M333.87 463.46L335.23 463.52" class="bl"/><path d="M334.93 463.50L335.70 463.66" class="s"/><path d="M334.64 463.45L335.99 463.72" class="bl"/><path d="M335.70 463.66L336.46 463.77" class="s"/><path d="M335.40 463.61L336.76 463.82" class="bl"/><path d="M336.46 463.77L337.23 463.69" class="s"/><path d="M336.16 463.80L337.52 463.66" class="bl"/><path d="M337.23 463.69L337.99 463.31" class="s"/><path d="M336.96 463.83L338.26 463.18" class="bl"/><path d="M337.99 463.31L338.76 462.83" class="s"/><path d="M337.74 463.47L339.01 462.67" class="bl"/><path d="M338.76 462.83L339.52 462.50" class="s"/><path d="M338.48 462.94L339.80 462.39" class="bl"/><path d="M339.52 462.50L340.29 462.58" class="s"/><path d="M339.22 462.48L340.58 462.61" class="bl"/><path d="M340.29 462.58L341.05 463.01" class="s"/><path d="M340.02 462.43L341.31 463.16" class="bl"/><path d="M341.05 463.01L341.82 463.71" class="s"/><path d="M340.83 462.81L342.04 463.92" class="bl"/><path d="M341.82 463.71L342.58 464.54" class="s"/><path d="M341.61 463.49L342.78 464.76" class="bl"/><path d="M342.58 464.54L343.35 465.38" class="s"/><path d="M342.38 464.32L343.55 465.61" class="bl"/><path d="M343.35 465.38L344.11 466.26" class="s"/><path d="M343.15 465.16L344.31 466.49" class="bl"/><path d="M344.11 466.26L344.88 467.17" class="s"/><path d="M343.92 466.03L345.07 467.40" class="bl"/><path d="M344.88 467.17L345.64 468.11" class="s"/><path d="M344.69 466.94L345.83 468.34" class="bl"/><path d="M345.64 468.11L346.40 469.08" class="s"/><path d="M345.45 467.88L346.59 469.32" class="bl"/><path d="M346.40 469.08L347.17 470.09" class="s"/><path d="M346.22 468.84L347.35 470.33" class="bl"/><path d="M347.17 470.09L347.93 471.16" class="s"/><path d="M346.99 469.85L348.11 471.40" class="bl"/><path d="M347.93 471.16L348.70 472.34" class="s"/><path d="M347.77 470.90L348.86 472.59" class="bl"/><path d="M348.70 472.34L349.46 473.67" class="s"/><path d="M348.55 472.08L349.61 473.93" class="bl"/><path d="M349.46 473.67L350.23 475.07" class="s"/><path d="M349.32 473.40L350.37 475.34" class="bl"/><path d="M350.23 475.07L350.99 476.44" class="s"/><path d="M350.08 474.81L351.14 476.71" class="bl"/><path d="M350.99 476.44L351.76 477.66" class="s"/><path d="M350.83 476.19L351.92 477.92" class="bl"/><path d="M351.76 477.66L352.52 478.68" class="s"/><path d="M351.58 477.42L352.70 478.92" class="bl"/><path d="M352.52 478.68L353.29 479.57" class="s"/><path d="M352.33 478.45L353.48 479.79" class="bl"/><path d="M353.29 479.57L354.05 480.35" class="s"/><path d="M353.08 479.35L354.26 480.56" class="bl"/><path d="M354.05 480.35L354.82 481.04" class="s"/><path d="M353.83 480.15L355.04 481.24" class="bl"/><path d="M354.82 481.04L355.58 481.67" class="s"/><path d="M354.59 480.85L355.81 481.86" class="bl"/><path d="M355.58 481.67L356.35 482.27" class="s"/><path d="M355.35 481.49L356.59 482.45" class="bl"/><path d="M356.35 482.27L357.11 482.82" class="s"/><path d="M356.10 482.09L357.36 482.99" class="bl"/><path d="M357.11 482.82L357.88 483.33" class="s"/><path d="M356.86 482.65L358.13 483.49" class="bl"/><path d="M357.88 483.33L358.64 483.79" class="s"/><path d="M357.62 483.17L358.90 483.94" class="bl"/><path d="M358.64 483.79L359.41 484.21" class="s"/><path d="M358.38 483.64L359.67 484.36" class="bl"/><path d="M359.41 484.21L360.17 484.61" class="s"/><path d="M359.14 484.08L360.44 484.74" class="bl"/><path d="M360.17 484.61L360.94 484.97" class="s"/><path d="M359.90 484.48L361.21 485.10" class="bl"/><path d="M360.94 484.97L361.70 485.31" class="s"/><path d="M360.66 484.85L361.98 485.43" class="bl"/><path d="M361.70 485.31L362.47 485.62" class="s"/><path d="M361.42 485.20L362.75 485.73" class="bl"/><path d="M362.47 485.62L363.23 485.91" class="s"/><path d="M362.19 485.51L363.51 486.01" class="bl"/><path d="M363.23 485.91L364.00 486.18" class="s"/><path d="M362.95 485.80L364.28 486.28" class="bl"/><path d="M364.00 486.18L364.76 486.44" class="s"/><path d="M363.71 486.08L365.05 486.54" class="bl"/><path d="M364.76 486.44L365.53 486.70" class="s"/><path d="M364.48 486.35L365.81 486.80" class="bl"/><path d="M365.53 486.70L366.29 486.95" class="s"/><path d="M365.24 486.61L366.58 487.04" class="bl"/><path d="M366.29 486.95L367.06 487.20" class="s"/><path d="M366.01 486.86L367.34 487.29" class="bl"/><path d="M367.06 487.20L367.82 487.44" class="s"/><path d="M366.77 487.11L368.11 487.53" class="bl"/><path d="M367.82 487.44L368.59 487.69" class="s"/><path d="M367.54 487.35L368.87 487.78" class="bl"/><path d="M368.59 487.69L369.35 487.93" class="s"/><path d="M368.30 487.60L369.64 488.02" class="bl"/><path d="M369.35 487.93L370.12 488.17" class="s"/><path d="M369.07 487.84L370.40 488.26" class="bl"/><path d="M370.12 488.17L370.88 488.41" class="s"/><path d="M369.83 488.09L371.17 488.50" class="bl"/><path d="M370.88 488.41L371.65 488.64" class="s"/><path d="M370.59 488.32L371.93 488.72" class="bl"/><path d="M371.65 488.64L372.41 488.86" class="s"/><path d="M371.36 488.55L372.70 488.94" class="bl"/><path d="M372.41 488.86L373.18 489.06" class="s"/><path d="M372.12 488.78L373.47 489.14" class="bl"/><path d="M373.18 489.06L373.94 489.26" class="s"/><path d="M372.88 488.99L374.23 489.33" class="bl"/><path d="M373.94 489.26L374.71 489.44" class="s"/><path d="M373.65 489.19L375.00 489.50" class="bl"/><path d="M374.71 489.44L375.47 489.60" class="s"/><path d="M374.41 489.37L375.76 489.66" class="bl"/><path d="M375.47 489.60L376.24 489.75" class="s"/><path d="M375.18 489.54L376.53 489.80" class="bl"/><path d="M376.24 489.75L377.00 489.88" class="s"/><path d="M375.94 489.69L377.30 489.94" class="bl"/><path d="M377.00 489.88L377.76 490.01" class="s"/><path d="M376.70 489.83L378.06 490.06" class="bl"/><path d="M377.76 490.01L378.53 490.12" class="s"/><path d="M377.47 489.96L378.83 490.17" class="bl"/><path d="M378.53 490.12L379.29 490.23" class="s"/><path d="M378.23 490.08L379.59 490.27" class="bl"/><path d="M379.29 490.23L380.06 490.33" class="s"/><path d="M379.00 490.19L380.36 490.36" class="bl"/><path d="M380.06 490.33L380.82 490.41" class="s"/><path d="M379.76 490.29L381.12 490.44" class="bl"/><path d="M380.82 490.41L381.59 490.47" class="s"/><path d="M380.53 490.38L381.89 490.50" class="bl"/><path d="M381.59 490.47L382.35 490.51" class="s"/><path d="M381.29 490.46L382.65 490.53" class="bl"/><path d="M382.35 490.51L383.12 490.49" class="s"/><path d="M382.05 490.52L383.42 490.48" class="bl"/><path d="M383.12 490.49L383.88 490.33" class="s"/><path d="M382.83 490.55L384.18 490.27" class="bl"/><path d="M383.88 490.33L384.65 490.09" class="s"/><path d="M383.60 490.42L384.94 490.00" class="bl"/><path d="M384.65 490.09L385.41 489.89" class="s"/><path d="M384.36 490.17L385.70 489.82" class="bl"/><path d="M385.41 489.89L386.18 489.68" class="s"/><path d="M385.12 489.97L386.47 489.60" class="bl"/><path d="M386.18 489.68L386.94 489.46" class="s"/><path d="M385.89 489.77L387.23 489.37" class="bl"/><path d="M386.94 489.46L387.71 489.23" class="s"/><path d="M386.66 489.54L388.00 489.14" class="bl"/><path d="M387.71 489.23L388.47 488.99" class="s"/><path d="M387.42 489.32L388.76 488.90" class="bl"/><path d="M388.47 488.99L389.24 488.75" class="s"/><path d="M388.19 489.08L389.52 488.66" class="bl"/><path d="M389.24 488.75L390.00 488.50" class="s"/><path d="M388.95 488.84L390.29 488.41" class="bl"/><path d="M390.00 488.50L390.77 488.23" class="s"/><path d="M389.72 488.60L391.05 488.13" class="bl"/><path d="M390.77 488.23L391.53 487.92" class="s"/><path d="M390.49 488.34L391.81 487.81" class="bl"/><path d="M391.53 487.92L392.30 487.61" class="s"/><path d="M391.26 488.04L392.58 487.49" class="bl"/><path d="M392.30 487.61L393.06 487.31" class="s"/><path d="M392.02 487.72L393.34 487.20" class="bl"/><path d="M393.06 487.31L393.83 487.05" class="s"/><path d="M392.78 487.40L394.11 486.95" class="bl"/><path d="M393.83 487.05L394.59 486.84" class="s"/><path d="M393.54 487.13L394.88 486.76" class="bl"/><path d="M394.59 486.84L395.36 486.69" class="s"/><path d="M394.30 486.90L395.65 486.63" class="bl"/><path d="M395.36 486.69L396.12 486.61" class="s"/><path d="M395.06 486.72L396.42 486.58" class="bl"/><path d="M396.12 486.61L396.89 486.58" class="s"/><path d="M395.82 486.63L397.19 486.57" class="bl"/><path d="M396.89 486.58L397.65 486.57" class="s"/><path d="M396.59 486.58L397.95 486.56" class="bl"/><path d="M397.65 486.57L398.42 486.56" class="s"/><path d="M397.35 486.57L398.72 486.56" class="bl"/><path d="M398.42 486.56L399.18 486.54" class="s"/><path d="M398.12 486.57L399.48 486.54" class="bl"/><path d="M399.18 486.54L399.95 486.50" class="s"/><path d="M398.88 486.56L400.25 486.48" class="bl"/><path d="M399.95 486.50L400.71 486.41" class="s"/><path d="M399.65 486.53L401.01 486.38" class="bl"/><path d="M400.71 486.41L401.48 486.26" class="s"/><path d="M400.42 486.47L401.77 486.20" class="bl"/><path d="M401.48 486.26L402.24 486.03" class="s"/><path d="M401.19 486.34L402.53 485.95" class="bl"/><path d="M402.24 486.03L403.01 485.75" class="s"/><path d="M401.96 486.13L403.29 485.65" class="bl"/><path d="M403.01 485.75L403.77 485.43" class="s"/><path d="M402.73 485.87L404.05 485.32" class="bl"/><path d="M403.77 485.43L404.54 485.08" class="s"/><path d="M403.50 485.56L404.81 484.95" class="bl"/><path d="M404.54 485.08L405.30 484.69" class="s"/><path d="M404.27 485.21L405.57 484.55" class="bl"/><path d="M405.30 484.69L406.07 484.28" class="s"/><path d="M405.04 484.83L406.33 484.14" class="bl"/><path d="M406.07 484.28L406.83 483.87" class="s"/><path d="M405.80 484.43L407.09 483.72" class="bl"/><path d="M406.83 483.87L407.60 483.45" class="s"/><path d="M406.57 484.01L407.86 483.30" class="bl"/><path d="M407.60 483.45L408.36 483.01" class="s"/><path d="M407.33 483.60L408.62 482.86" class="bl"/><path d="M408.36 483.01L409.12 482.55" class="s"/><path d="M408.10 483.17L409.38 482.39" class="bl"/><path d="M409.12 482.55L409.89 482.06" class="s"/><path d="M408.87 482.71L410.14 481.90" class="bl"/><path d="M409.89 482.06L410.65 481.56" class="s"/><path d="M409.64 482.23L410.91 481.40" class="bl"/><path d="M410.65 481.56L411.42 481.05" class="s"/><path d="M410.41 481.73L411.67 480.88" class="bl"/><path d="M411.42 481.05L412.18 480.54" class="s"/><path d="M411.17 481.22L412.43 480.37" class="bl"/><path d="M412.18 480.54L412.95 480.03" class="s"/><path d="M411.93 480.70L413.20 479.87" class="bl"/><path d="M412.95 480.03L413.71 479.54" class="s"/><path d="M412.70 480.20L413.97 479.38" class="bl"/><path d="M413.71 479.54L414.48 479.05" class="s"/><path d="M413.46 479.70L414.73 478.89" class="bl"/><path d="M414.48 479.05L415.24 478.56" class="s"/><path d="M414.23 479.21L415.50 478.40" class="bl"/><path d="M415.24 478.56L416.01 478.07" class="s"/><path d="M414.99 478.72L416.26 477.91" class="bl"/><path d="M416.01 478.07L416.77 477.56" class="s"/><path d="M415.76 478.23L417.02 477.40" class="bl"/><path d="M416.77 477.56L417.54 477.05" class="s"/><path d="M416.53 477.73L417.79 476.88" class="bl"/><path d="M417.54 477.05L418.30 476.51" class="s"/><path d="M417.29 477.22L418.55 476.34" class="bl"/><path d="M418.30 476.51L419.07 475.95" class="s"/><path d="M418.06 476.69L419.31 475.77" class="bl"/><path d="M419.07 475.95L419.83 475.36" class="s"/><path d="M418.83 476.13L420.07 475.17" class="bl"/><path d="M419.83 475.36L420.60 474.74" class="s"/><path d="M419.60 475.55L420.83 474.55" class="bl"/><path d="M420.60 474.74L421.36 474.10" class="s"/><path d="M420.37 474.93L421.59 473.91" class="bl"/><path d="M421.36 474.10L422.13 473.45" class="s"/><path d="M421.13 474.29L422.36 473.25" class="bl"/><path d="M422.13 473.45L422.89 472.79" class="s"/><path d="M421.90 473.64L423.12 472.59" class="bl"/><path d="M422.89 472.79L423.66 472.13" class="s"/><path d="M422.67 472.98L423.89 471.94" class="bl"/><path d="M423.66 472.13L424.42 471.48" class="s"/><path d="M423.43 472.32L424.65 471.29" class="bl"/><path d="M424.42 471.48L425.19 470.85" class="s"/><path d="M424.19 471.67L425.42 470.65" class="bl"/><path d="M425.19 470.85L425.95 470.23" class="s"/><path d="M424.95 471.03L426.19 470.04" class="bl"/><path d="M425.95 470.23L426.72 469.63" class="s"/><path d="M425.72 470.42L426.95 469.45" class="bl"/><path d="M426.72 469.63L427.48 469.04" class="s"/><path d="M426.48 469.81L427.72 468.85" class="bl"/><path d="M427.48 469.04L428.25 468.44" class="s"/><path d="M427.25 469.22L428.48 468.26" class="bl"/><path d="M428.25 468.44L429.01 467.84" class="s"/><path d="M428.01 468.63L429.25 467.65" class="bl"/><path d="M429.01 467.84L429.78 467.22" class="s"/><path d="M428.78 468.03L430.01 467.03" class="bl"/><path d="M429.78 467.22L430.54 466.58" class="s"/><path d="M429.55 467.41L430.77 466.39" class="bl"/><path d="M430.54 466.58L431.31 465.91" class="s"/><path d="M430.32 466.78L431.53 465.72" class="bl"/><path d="M431.31 465.91L432.07 465.22" class="s"/><path d="M431.09 466.12L432.29 465.01" class="bl"/><path d="M432.07 465.22L432.84 464.48" class="s"/><path d="M431.86 465.42L433.05 464.27" class="bl"/><path d="M432.84 464.48L433.60 463.71" class="s"/><path d="M432.62 464.69L433.81 463.50" class="bl"/><path d="M433.60 463.71L434.37 462.91" class="s"/><path d="M433.39 463.93L434.57 462.70" class="bl"/><path d="M434.37 462.91L435.13 462.10" class="s"/><path d="M434.16 463.13L435.34 461.88" class="bl"/><path d="M435.13 462.10L435.90 461.26" class="s"/><path d="M434.93 462.32L436.10 461.04" class="bl"/><path d="M435.90 461.26L436.66 460.42" class="s"/><path d="M435.69 461.49L436.86 460.20" class="bl"/><path d="M436.66 460.42L437.43 459.57" class="s"/><path d="M436.46 460.64L437.63 459.35" class="bl"/><path d="M437.43 459.57L438.19 458.72" class="s"/><path d="M437.23 459.79L438.39 458.49" class="bl"/><path d="M438.19 458.72L438.96 457.87" class="s"/><path d="M437.99 458.94L439.16 457.64" class="bl"/><path d="M438.96 457.87L439.72 457.02" class="s"/><path d="M438.75 458.09L439.92 456.80" class="bl"/><path d="M439.72 457.02L440.49 456.19" class="s"/><path d="M439.52 457.24L440.69 455.97" class="bl"/><path d="M440.49 456.19L441.25 455.35" class="s"/><path d="M440.28 456.41L441.45 455.13" class="bl"/><path d="M441.25 455.35L442.01 454.51" class="s"/><path d="M441.05 455.57L442.22 454.29" class="bl"/><path d="M442.01 454.51L442.78 453.66" class="s"/><path d="M441.81 454.73L442.98 453.44" class="bl"/><path d="M442.78 453.66L443.54 452.82" class="s"/><path d="M442.58 453.89L443.75 452.59" class="bl"/><path d="M443.54 452.82L444.31 451.97" class="s"/><path d="M443.34 453.04L444.51 451.75" class="bl"/><path d="M444.31 451.97L445.07 451.12" class="s"/><path d="M444.11 452.19L445.28 450.90" class="bl"/><path d="M445.07 451.12L445.84 450.28" class="s"/><path d="M444.87 451.34L446.04 450.06" class="bl"/><path d="M445.84 450.28L446.60 449.45" class="s"/><path d="M445.64 450.50L446.81 449.23" class="bl"/><path d="M446.60 449.45L447.37 448.64" class="s"/><path d="M446.40 449.67L447.57 448.42" class="bl"/><path d="M447.37 448.64L448.13 447.84" class="s"/><path d="M447.16 448.85L448.34 447.62" class="bl"/><path d="M448.13 447.84L448.90 447.03" class="s"/><path d="M447.93 448.05L449.11 446.82" class="bl"/><path d="M448.90 447.03L449.66 446.26" class="s"/><path d="M448.69 447.25L449.87 446.04" class="bl"/><path d="M449.66 446.26L450.43 445.55" class="s"/><path d="M449.44 446.46L450.65 445.35" class="bl"/><path d="M450.43 445.55L451.19 444.95" class="s"/><path d="M450.19 445.74L451.43 444.76" class="bl"/><path d="M451.19 444.95L451.96 444.44" class="s"/><path d="M450.94 445.11L452.21 444.27" class="bl"/><path d="M451.96 444.44L452.72 444.02" class="s"/><path d="M451.70 444.58L452.99 443.88" class="bl"/><path d="M452.72 444.02L453.49 443.67" class="s"/><path d="M452.45 444.15L453.76 443.55" class="bl"/><path d="M453.49 443.67L454.25 443.37" class="s"/><path d="M453.21 443.78L454.53 443.27" class="bl"/><path d="M454.25 443.37L455.02 443.12" class="s"/><path d="M453.97 443.47L455.30 443.02" class="bl"/><path d="M455.02 443.12L455.78 442.89" class="s"/><path d="M454.73 443.20L456.07 442.80" class="bl"/><path d="M455.78 442.89L456.55 442.68" class="s"/><path d="M455.49 442.96L456.84 442.61" class="bl"/><path d="M456.55 442.68L457.31 442.59" class="s"/><path d="M456.25 442.72L457.61 442.55" class="bl"/><path d="M457.31 442.59L458.08 442.58" class="s"/><path d="M457.01 442.59L458.38 442.57" class="bl"/><path d="M458.08 442.58L458.84 442.60" class="s"/><path d="M457.78 442.57L459.14 442.62" class="bl"/><path d="M458.84 442.60L459.61 442.66" class="s"/><path d="M458.54 442.58L459.91 442.67" class="bl"/><path d="M459.61 442.66L460.37 442.72" class="s"/><path d="M459.31 442.63L460.67 442.75" class="bl"/><path d="M460.37 442.72L461.14 442.80" class="s"/><path d="M460.07 442.69L461.44 442.83" class="bl"/><path d="M461.14 442.80L461.90 442.88" class="s"/><path d="M460.84 442.76L462.20 442.91" class="bl"/><path d="M461.90 442.88L462.67 442.97" class="s"/><path d="M461.60 442.85L462.96 443.00" class="bl"/><path d="M462.67 442.97L463.43 443.06" class="s"/><path d="M462.37 442.93L463.73 443.10" class="bl"/><path d="M463.43 443.06L464.20 443.16" class="s"/><path d="M463.13 443.02L464.49 443.20" class="bl"/><path d="M464.20 443.16L464.96 443.27" class="s"/><path d="M463.90 443.12L465.26 443.31" class="bl"/><path d="M464.96 443.27L465.73 443.38" class="s"/><path d="M464.66 443.22L466.02 443.42" class="bl"/><path d="M465.73 443.38L466.49 443.50" class="s"/><path d="M465.43 443.33L466.79 443.55" class="bl"/><path d="M466.49 443.50L467.26 443.65" class="s"/><path d="M466.20 443.44L467.55 443.70" class="bl"/><path d="M467.26 443.65L468.02 443.85" class="s"/><path d="M466.97 443.57L468.31 443.92" class="bl"/><path d="M468.02 443.85L468.79 444.11" class="s"/><path d="M467.74 443.75L469.07 444.21" class="bl"/><path d="M468.79 444.11L469.55 444.37" class="s"/><path d="M468.50 444.01L469.83 444.47" class="bl"/><path d="M469.55 444.37L470.32 444.58" class="s"/><path d="M469.26 444.29L470.61 444.66" class="bl"/><path d="M470.32 444.58L471.08 444.74" class="s"/><path d="M470.02 444.52L471.37 444.80" class="bl"/><path d="M471.08 444.74L471.85 444.88" class="s"/><path d="M470.79 444.68L472.14 444.93" class="bl"/><path d="M471.85 444.88L472.61 445.03" class="s"/><path d="M471.55 444.82L472.90 445.08" class="bl"/><path d="M472.61 445.03L473.38 445.20" class="s"/><path d="M472.32 444.96L473.67 445.27" class="bl"/><path d="M473.38 445.20L474.14 445.42" class="s"/><path d="M473.09 445.12L474.43 445.50" class="bl"/><path d="M474.14 445.42L474.90 445.71" class="s"/><path d="M473.86 445.31L475.19 445.81" class="bl"/><path d="M474.90 445.71L475.67 446.08" class="s"/><path d="M474.63 445.58L475.94 446.21" class="bl"/><path d="M475.67 446.08L476.43 446.50" class="s"/><path d="M475.41 445.93L476.70 446.65" class="bl"/><path d="M476.43 446.50L477.20 446.98" class="s"/><path d="M476.18 446.34L477.45 447.14" class="bl"/><path d="M477.20 446.98L477.96 447.50" class="s"/><path d="M476.95 446.81L478.21 447.67" class="bl"/><path d="M477.96 447.50L478.73 448.05" class="s"/><path d="M477.72 447.33L478.97 448.23" class="bl"/><path d="M478.73 448.05L479.49 448.62" class="s"/><path d="M478.49 447.88L479.74 448.80" class="bl"/><path d="M479.49 448.62L480.26 449.20" class="s"/><path d="M479.25 448.44L480.50 449.38" class="bl"/><path d="M480.26 449.20L481.02 449.83" class="s"/><path d="M480.03 449.01L481.26 450.02" class="bl"/><path d="M481.02 449.83L481.79 450.50" class="s"/><path d="M480.80 449.63L482.01 450.70" class="bl"/><path d="M481.79 450.50L482.55 451.19" class="s"/><path d="M481.57 450.30L482.78 451.39" class="bl"/><path d="M482.55 451.19L483.32 451.87" class="s"/><path d="M482.33 450.99L483.54 452.07" class="bl"/><path d="M483.32 451.87L484.08 452.54" class="s"/><path d="M483.09 451.67L484.31 452.73" class="bl"/><path d="M484.08 452.54L484.85 453.17" class="s"/><path d="M483.85 452.35L485.08 453.36" class="bl"/><path d="M484.85 453.17L485.61 453.74" class="s"/><path d="M484.61 452.99L485.85 453.92" class="bl"/><path d="M485.61 453.74L486.38 454.23" class="s"/><path d="M485.36 453.58L486.63 454.40" class="bl"/><path d="M486.38 454.23L487.14 454.66" class="s"/><path d="M486.12 454.09L487.41 454.80" class="bl"/><path d="M487.14 454.66L487.91 455.03" class="s"/><path d="M486.87 454.53L488.18 455.16" class="bl"/><path d="M487.91 455.03L488.67 455.36" class="s"/><path d="M487.63 454.91L488.95 455.48" class="bl"/><path d="M488.67 455.36L489.44 455.67" class="s"/><path d="M488.39 455.25L489.72 455.79" class="bl"/><path d="M489.44 455.67L490.20 455.98" class="s"/><path d="M489.16 455.56L490.48 456.09" class="bl"/><path d="M490.20 455.98L490.97 456.28" class="s"/><path d="M489.92 455.86L491.25 456.40" class="bl"/><path d="M490.97 456.28L491.73 456.62" class="s"/><path d="M490.69 456.16L492.01 456.74" class="bl"/><path d="M491.73 456.62L492.50 457.00" class="s"/><path d="M491.46 456.49L492.77 457.13" class="bl"/><path d="M492.50 457.00L493.26 457.40" class="s"/><path d="M492.23 456.86L493.53 457.53" class="bl"/><path d="M493.26 457.40L494.03 457.81" class="s"/><path d="M493.00 457.25L494.29 457.95" class="bl"/><path d="M494.03 457.81L494.79 458.24" class="s"/><path d="M493.77 457.66L495.05 458.39" class="bl"/><path d="M494.79 458.24L495.56 458.71" class="s"/><path d="M494.54 458.08L495.81 458.86" class="bl"/><path d="M495.56 458.71L496.32 459.21" class="s"/><path d="M495.31 458.54L496.57 459.38" class="bl"/><path d="M496.32 459.21L497.09 459.69" class="s"/><path d="M496.07 459.05L497.34 459.85" class="bl"/><path d="M497.09 459.69L497.85 460.38" class="s"/><path d="M496.86 459.49L498.07 460.58" class="bl"/><path d="M497.85 460.38L498.62 461.42" class="s"/><path d="M497.67 460.14L498.79 461.67" class="bl"/><path d="M498.62 461.42L499.38 462.72" class="s"/><path d="M498.46 461.17L499.53 462.98" class="bl"/><path d="M499.38 462.72L500.15 464.16" class="s"/><path d="M499.24 462.46L500.29 464.42" class="bl"/><path d="M500.15 464.16L500.91 465.65" class="s"/><path d="M500.01 463.89L501.05 465.92" class="bl"/><path d="M500.91 465.65L501.68 467.16" class="s"/><path d="M500.77 465.38L501.81 467.42" class="bl"/><path d="M501.68 467.16L502.44 468.74" class="s"/><path d="M501.54 466.89L502.57 469.01" class="bl"/><path d="M502.44 468.74L503.21 470.44" class="s"/><path d="M502.32 468.46L503.33 470.72" class="bl"/><path d="M503.21 470.44L503.97 472.10" class="s"/><path d="M503.08 470.17L504.10 472.37" class="bl"/><path d="M503.97 472.10L504.74 473.53" class="s"/><path d="M503.83 471.83L504.88 473.79" class="bl"/><path d="M504.74 473.53L505.50 474.66" class="s"/><path d="M504.57 473.28L505.67 474.90" class="bl"/><path d="M505.50 474.66L506.26 475.58" class="s"/><path d="M505.31 474.42L506.46 475.82" class="bl"/><path d="M506.26 475.58L507.03 476.37" class="s"/><path d="M506.05 475.37L507.24 476.58" class="bl"/><path d="M507.03 476.37L507.79 477.03" class="s"/><path d="M506.80 476.17L508.02 477.23" class="bl"/><path d="M507.79 477.03L508.56 477.62" class="s"/><path d="M507.56 476.85L508.80 477.80" class="bl"/><path d="M508.56 477.62L509.32 478.15" class="s"/><path d="M508.31 477.45L509.57 478.32" class="bl"/><path d="M509.32 478.15L510.09 478.63" class="s"/><path d="M509.07 477.99L510.34 478.79" class="bl"/><path d="M510.09 478.63L510.85 479.06" class="s"/><path d="M509.83 478.49L511.12 479.21" class="bl"/><path d="M510.85 479.06L511.62 479.44" class="s"/><path d="M510.58 478.93L511.89 479.57" class="bl"/><path d="M511.62 479.44L512.38 479.76" class="s"/><path d="M511.34 479.33L512.66 479.88" class="bl"/><path d="M512.38 479.76L513.15 480.02" class="s"/><path d="M512.10 479.66L513.43 480.11" class="bl"/><path d="M513.15 480.02L513.91 480.21" class="s"/><path d="M512.86 479.94L514.20 480.29" class="bl"/><path d="M513.91 480.21L514.68 480.34" class="s"/><path d="M513.62 480.16L514.97 480.39" class="bl"/><path d="M514.68 480.34L515.44 480.40" class="s"/><path d="M514.38 480.31L515.74 480.43" class="bl"/><path d="M515.44 480.40L516.21 480.41" class="s"/><path d="M515.14 480.40L516.51 480.42" class="bl"/><path d="M516.21 480.41L516.97 480.38" class="s"/><path d="M515.91 480.43L517.27 480.37" class="bl"/><path d="M516.97 480.38L517.74 480.31" class="s"/><path d="M516.67 480.41L518.04 480.28" class="bl"/><path d="M517.74 480.31L518.50 480.21" class="s"/><path d="M517.44 480.35L518.80 480.17" class="bl"/><path d="M518.50 480.21L519.27 480.09" class="s"/><path d="M518.21 480.25L519.56 480.04" class="bl"/><path d="M519.27 480.09L520.03 479.95" class="s"/><path d="M518.97 480.14L520.33 479.89" class="bl"/><path d="M520.03 479.95L520.80 479.79" class="s"/><path d="M519.74 480.01L521.09 479.73" class="bl"/><path d="M520.80 479.79L521.56 479.61" class="s"/><path d="M520.51 479.86L521.85 479.54" class="bl"/><path d="M521.56 479.61L522.33 479.41" class="s"/><path d="M521.27 479.69L522.62 479.33" class="bl"/><path d="M522.33 479.41L523.09 479.19" class="s"/><path d="M522.04 479.49L523.38 479.11" class="bl"/><path d="M523.09 479.19L523.86 478.95" class="s"/><path d="M522.81 479.28L524.14 478.86" class="bl"/><path d="M523.86 478.95L524.62 478.70" class="s"/><path d="M523.57 479.05L524.91 478.60" class="bl"/><path d="M524.62 478.70L525.39 478.42" class="s"/><path d="M524.34 478.80L525.67 478.32" class="bl"/><path d="M525.39 478.42L526.15 478.14" class="s"/><path d="M525.11 478.53L526.43 478.03" class="bl"/><path d="M526.15 478.14L526.92 477.83" class="s"/><path d="M525.87 478.25L527.20 477.72" class="bl"/><path d="M526.92 477.83L527.68 477.51" class="s"/><path d="M526.64 477.95L527.96 477.39" class="bl"/><path d="M527.68 477.51L528.45 477.17" class="s"/><path d="M527.41 477.63L528.72 477.05" class="bl"/><path d="M528.45 477.17L529.21 476.83" class="s"/><path d="M528.17 477.30L529.48 476.70" class="bl"/><path d="M529.21 476.83L529.98 476.47" class="s"/><path d="M528.94 476.95L530.25 476.34" class="bl"/><path d="M529.98 476.47L530.74 476.10" class="s"/><path d="M529.71 476.60L531.01 475.98" class="bl"/><path d="M530.74 476.10L531.51 475.73" class="s"/><path d="M530.47 476.24L531.78 475.60" class="bl"/><path d="M531.51 475.73L532.27 475.36" class="s"/><path d="M531.24 475.87L532.54 475.23" class="bl"/><path d="M532.27 475.36L533.04 474.98" class="s"/><path d="M532.00 475.49L533.30 474.85" class="bl"/><path d="M533.04 474.98L533.80 474.60" class="s"/><path d="M532.77 475.11L534.07 474.46" class="bl"/><path d="M533.80 474.60L534.57 474.22" class="s"/><path d="M533.53 474.73L534.83 474.08" class="bl"/><path d="M534.57 474.22L535.33 473.84" class="s"/><path d="M534.30 474.35L535.60 473.70" class="bl"/><path d="M535.33 473.84L536.10 473.45" class="s"/><path d="M535.06 473.97L536.36 473.32" class="bl"/><path d="M536.10 473.45L536.86 473.06" class="s"/><path d="M535.83 473.59L537.13 472.92" class="bl"/><path d="M536.86 473.06L537.62 472.66" class="s"/><path d="M536.59 473.20L537.89 472.53" class="bl"/><path d="M537.62 472.66L538.39 472.26" class="s"/><path d="M537.36 472.80L538.66 472.12" class="bl"/><path d="M538.39 472.26L539.15 471.85" class="s"/><path d="M538.13 472.40L539.42 471.71" class="bl"/><path d="M539.15 471.85L539.92 471.43" class="s"/><path d="M538.89 471.99L540.18 471.29" class="bl"/><path d="M539.92 471.43L540.68 471.01" class="s"/><path d="M539.66 471.58L540.95 470.86" class="bl"/><path d="M540.68 471.01L541.45 470.57" class="s"/><path d="M540.42 471.15L541.71 470.42" class="bl"/><path d="M541.45 470.57L542.21 470.13" class="s"/><path d="M541.19 470.72L542.47 469.98" class="bl"/><path d="M542.21 470.13L542.98 469.69" class="s"/><path d="M541.96 470.28L543.24 469.53" class="bl"/><path d="M542.98 469.69L543.74 469.23" class="s"/><path d="M542.72 469.84L544.00 469.08" class="bl"/><path d="M543.74 469.23L544.51 468.77" class="s"/><path d="M543.49 469.39L544.77 468.62" class="bl"/><path d="M544.51 468.77L545.27 468.31" class="s"/><path d="M544.25 468.93L545.53 468.15" class="bl"/><path d="M545.27 468.31L546.04 467.84" class="s"/><path d="M545.02 468.47L546.29 467.68" class="bl"/><path d="M546.04 467.84L546.80 467.36" class="s"/><path d="M545.78 468.00L547.06 467.20" class="bl"/><path d="M546.80 467.36L547.57 466.88" class="s"/><path d="M546.55 467.52L547.82 466.72" class="bl"/><path d="M547.57 466.88L548.33 466.39" class="s"/><path d="M547.32 467.04L548.59 466.23" class="bl"/><path d="M548.33 466.39L549.10 465.90" class="s"/><path d="M548.08 466.56L549.35 465.74" class="bl"/><path d="M549.10 465.90L549.86 465.40" class="s"/><path d="M548.85 466.07L550.11 465.23" class="bl"/><path d="M549.86 465.40L550.63 464.88" class="s"/><path d="M549.61 465.57L550.88 464.71" class="bl"/><path d="M550.63 464.88L551.39 464.35" class="s"/><path d="M550.38 465.05L551.64 464.18" class="bl"/><path d="M551.39 464.35L552.16 463.82" class="s"/><path d="M551.15 464.53L552.40 463.65" class="bl"/><path d="M552.16 463.82L552.92 463.29" class="s"/><path d="M551.91 463.99L553.17 463.11" class="bl"/><path d="M552.92 463.29L553.69 462.75" class="s"/><path d="M552.68 463.46L553.93 462.58" class="bl"/><path d="M553.69 462.75L554.45 462.22" class="s"/><path d="M553.44 462.92L554.70 462.05" class="bl"/><path d="M554.45 462.22L555.22 461.69" class="s"/><path d="M554.21 462.39L555.46 461.52" class="bl"/><path d="M555.22 461.69L555.98 461.18" class="s"/><path d="M554.97 461.86L556.23 461.01" class="bl"/><path d="M555.98 461.18L556.75 460.67" class="s"/><path d="M555.73 461.34L557.00 460.51" class="bl"/><path d="M556.75 460.67L557.51 460.18" class="s"/><path d="M556.49 460.84L557.76 460.02" class="bl"/><path d="M557.51 460.18L558.28 459.70" class="s"/><path d="M557.26 460.34L558.53 459.54" class="bl"/><path d="M558.28 459.70L559.04 459.22" class="s"/><path d="M558.02 459.86L559.30 459.07" class="bl"/><path d="M559.04 459.22L559.81 458.76" class="s"/><path d="M558.79 459.38L560.06 458.61" class="bl"/><path d="M559.81 458.76L560.57 458.31" class="s"/><path d="M559.55 458.91L560.83 458.16" class="bl"/><path d="M560.57 458.31L561.34 457.87" class="s"/><path d="M560.31 458.46L561.60 457.72" class="bl"/><path d="M561.34 457.87L562.10 457.44" class="s"/><path d="M561.07 458.02L562.36 457.30" class="bl"/><path d="M562.10 457.44L562.87 457.01" class="s"/><path d="M561.84 457.59L563.13 456.87" class="bl"/><path d="M562.87 457.01L563.63 456.58" class="s"/><path d="M562.60 457.16L563.89 456.44" class="bl"/><path d="M563.63 456.58L564.40 456.16" class="s"/><path d="M563.37 456.73L564.66 456.01" class="bl"/><path d="M564.40 456.16L565.16 455.75" class="s"/><path d="M564.13 456.30L565.43 455.61" class="bl"/><path d="M565.16 455.75L565.93 455.37" class="s"/><path d="M564.89 455.88L566.19 455.24" class="bl"/><path d="M565.93 455.37L566.69 455.03" class="s"/><path d="M565.65 455.49L566.96 454.91" class="bl"/><path d="M566.69 455.03L567.46 454.75" class="s"/><path d="M566.41 455.13L567.74 454.64" class="bl"/><path d="M567.46 454.75L568.22 454.55" class="s"/><path d="M567.16 454.82L568.51 454.48" class="bl"/><path d="M568.22 454.55L568.99 454.45" class="s"/><path d="M567.92 454.59L569.28 454.42" class="bl"/><path d="M568.99 454.45L569.75 454.44" class="s"/><path d="M568.69 454.46L570.05 454.43" class="bl"/><path d="M569.75 454.44L570.51 454.47" class="s"/><path d="M569.45 454.42L570.81 454.48" class="bl"/><path d="M570.51 454.47L571.28 454.50" class="s"/><path d="M570.22 454.45L571.58 454.52" class="bl"/><path d="M571.28 454.50L572.04 454.50" class="s"/><path d="M570.98 454.51L572.34 454.49" class="bl"/><path d="M572.04 454.50L572.81 454.43" class="s"/><path d="M571.75 454.52L573.11 454.40" class="bl"/><path d="M572.81 454.43L573.57 454.34" class="s"/><path d="M572.51 454.47L573.87 454.30" class="bl"/><path d="M573.57 454.34L574.34 454.26" class="s"/><path d="M573.28 454.37L574.64 454.23" class="bl"/><path d="M574.34 454.26L575.10 454.23" class="s"/><path d="M574.04 454.27L575.40 454.22" class="bl"/><path d="M575.10 454.23L575.87 454.28" class="s"/><path d="M574.80 454.22L576.17 454.30" class="bl"/><path d="M575.87 454.28L576.63 454.36" class="s"/><path d="M575.57 454.25L576.93 454.40" class="bl"/><path d="M576.63 454.36L577.40 454.48" class="s"/><path d="M576.34 454.32L577.70 454.53" class="bl"/><path d="M577.40 454.48L578.16 454.64" class="s"/><path d="M577.10 454.42L578.46 454.70" class="bl"/><path d="M578.16 454.64L578.93 454.83" class="s"/><path d="M577.87 454.57L579.22 454.91" class="bl"/><path d="M578.93 454.83L579.69 455.06" class="s"/><path d="M578.64 454.75L579.98 455.15" class="bl"/><path d="M579.69 455.06L580.46 455.32" class="s"/><path d="M579.41 454.96L580.74 455.42" class="bl"/><path d="M580.46 455.32L581.22 455.62" class="s"/><path d="M580.18 455.22L581.50 455.72" class="bl"/><path d="M581.22 455.62L581.99 455.93" class="s"/><path d="M580.95 455.50L582.27 456.04" class="bl"/><path d="M581.99 455.93L582.75 456.25" class="s"/><path d="M581.71 455.81L583.03 456.37" class="bl"/><path d="M582.75 456.25L583.52 456.58" class="s"/><path d="M582.48 456.13L583.79 456.70" class="bl"/><path d="M583.52 456.58L584.28 456.91" class="s"/><path d="M583.24 456.46L584.56 457.03" class="bl"/><path d="M584.28 456.91L585.05 457.23" class="s"/><path d="M584.01 456.79L585.32 457.35" class="bl"/><path d="M585.05 457.23L585.81 457.56" class="s"/><path d="M584.77 457.11L586.09 457.68" class="bl"/><path d="M585.81 457.56L586.58 457.89" class="s"/><path d="M585.54 457.44L586.85 458.01" class="bl"/><path d="M586.58 457.89L587.34 458.23" class="s"/><path d="M586.30 457.77L587.62 458.35" class="bl"/><path d="M587.34 458.23L588.11 458.58" class="s"/><path d="M587.07 458.11L588.38 458.70" class="bl"/><path d="M588.11 458.58L588.87 458.94" class="s"/><path d="M587.84 458.45L589.14 459.07" class="bl"/><path d="M588.87 458.94L589.64 459.32" class="s"/><path d="M588.60 458.81L589.91 459.45" class="bl"/><path d="M589.64 459.32L590.40 459.72" class="s"/><path d="M589.37 459.18L590.67 459.85" class="bl"/><path d="M590.40 459.72L591.17 460.13" class="s"/><path d="M590.14 459.57L591.43 460.27" class="bl"/><path d="M591.17 460.13L591.93 460.56" class="s"/><path d="M590.90 459.98L592.19 460.70" class="bl"/><path d="M591.93 460.56L592.70 460.99" class="s"/><path d="M591.67 460.41L592.96 461.13" class="bl"/><path d="M592.70 460.99L593.46 461.42" class="s"/><path d="M592.44 460.84L593.72 461.57" class="bl"/><path d="M593.46 461.42L594.23 461.85" class="s"/><path d="M593.20 461.27L594.49 462.00" class="bl"/><path d="M594.23 461.85L594.99 462.28" class="s"/><path d="M593.96 461.70L595.25 462.42" class="bl"/><path d="M594.99 462.28L595.76 462.72" class="s"/><path d="M594.73 462.12L596.02 462.87" class="bl"/><path d="M595.76 462.72L596.52 463.17" class="s"/><path d="M595.50 462.57L596.78 463.32" class="bl"/><path d="M596.52 463.17L597.29 463.62" class="s"/><path d="M596.26 463.02L597.54 463.77" class="bl"/><path d="M597.29 463.62L598.05 464.04" class="s"/><path d="M597.02 463.47L598.31 464.19" class="bl"/><path d="M598.05 464.04L598.82 464.44" class="s"/><path d="M597.78 463.91L599.08 464.58" class="bl"/><path d="M598.82 464.44L599.58 464.78" class="s"/><path d="M598.54 464.31L599.85 464.91" class="bl"/><path d="M599.58 464.78L600.35 465.07" class="s"/><path d="M599.30 464.68L600.63 465.18" class="bl"/><path d="M600.35 465.07L601.11 465.32" class="s"/><path d="M600.06 464.98L601.40 465.41" class="bl"/><path d="M601.11 465.32L601.88 465.53" class="s"/><path d="M600.82 465.24L602.16 465.61" class="bl"/><path d="M601.88 465.53L602.64 465.71" class="s"/><path d="M601.58 465.46L602.93 465.78" class="bl"/><path d="M602.64 465.71L603.40 465.87" class="s"/><path d="M602.35 465.65L603.70 465.94" class="bl"/><path d="M603.40 465.87L604.17 466.03" class="s"/><path d="M603.11 465.81L604.46 466.10" class="bl"/><path d="M604.17 466.03L604.93 466.17" class="s"/><path d="M603.87 465.98L605.23 466.22" class="bl"/><path d="M604.93 466.17L605.70 466.27" class="s"/><path d="M604.64 466.13L606.00 466.31" class="bl"/><path d="M605.70 466.27L606.46 466.36" class="s"/><path d="M605.40 466.24L606.76 466.40" class="bl"/><path d="M606.46 466.36L607.23 466.44" class="s"/><path d="M606.17 466.33L607.53 466.47" class="bl"/><path d="M607.23 466.44L607.99 466.50" class="s"/><path d="M606.93 466.42L608.29 466.52" class="bl"/>
<path d="M147.54 529.38L148.30 528.77" class="s"/><path d="M147.30 529.56L148.54 528.59" class="rd"/><path d="M148.30 528.77L149.07 528.82" class="s"/><path d="M148.00 528.76L149.36 528.84" class="rd"/><path d="M149.07 528.82L149.83 529.10" class="s"/><path d="M148.78 528.71L150.11 529.20" class="rd"/><path d="M149.83 529.10L150.60 529.43" class="s"/><path d="M149.55 528.98L150.87 529.54" class="rd"/><path d="M150.60 529.43L151.36 529.72" class="s"/><path d="M150.32 529.32L151.64 529.83" class="rd"/><path d="M151.36 529.72L152.12 529.94" class="s"/><path d="M151.07 529.64L152.41 530.03" class="rd"/><path d="M152.12 529.94L152.89 530.03" class="s"/><path d="M151.83 529.91L153.19 530.06" class="rd"/><path d="M152.89 530.03L153.65 530.06" class="s"/><path d="M152.59 530.02L153.95 530.07" class="rd"/><path d="M153.65 530.06L154.42 530.01" class="s"/><path d="M153.36 530.07L154.72 529.99" class="rd"/><path d="M154.42 530.01L155.18 529.86" class="s"/><path d="M154.13 530.07L155.48 529.80" class="rd"/><path d="M155.18 529.86L155.95 529.56" class="s"/><path d="M154.90 529.96L156.23 529.45" class="rd"/><path d="M155.95 529.56L156.71 529.08" class="s"/><path d="M155.69 529.72L156.97 528.93" class="rd"/><path d="M156.71 529.08L157.48 528.41" class="s"/><path d="M156.49 529.28L157.70 528.21" class="rd"/><path d="M157.48 528.41L158.24 527.61" class="s"/><path d="M157.27 528.63L158.45 527.39" class="rd"/><path d="M158.24 527.61L159.01 526.73" class="s"/><path d="M158.05 527.83L159.21 526.51" class="rd"/><path d="M159.01 526.73L159.77 525.85" class="s"/><path d="M158.81 526.96L159.97 525.62" class="rd"/><path d="M159.77 525.85L160.54 525.02" class="s"/><path d="M159.57 526.07L160.74 524.80" class="rd"/><path d="M160.54 525.02L161.30 524.19" class="s"/><path d="M160.34 525.24L161.51 523.97" class="rd"/><path d="M161.30 524.19L162.07 523.31" class="s"/><path d="M161.11 524.41L162.27 523.08" class="rd"/><path d="M162.07 523.31L162.83 522.30" class="s"/><path d="M161.89 523.55L163.01 522.06" class="rd"/><path d="M162.83 522.30L163.60 521.03" class="s"/><path d="M162.68 522.56L163.75 520.77" class="rd"/><path d="M163.60 521.03L164.36 519.40" class="s"/><path d="M163.47 521.30L164.49 519.13" class="rd"/><path d="M164.36 519.40L165.13 517.74" class="s"/><path d="M164.24 519.67L165.25 517.47" class="rd"/><path d="M165.13 517.74L165.89 516.46" class="s"/><path d="M164.97 518.00L166.05 516.20" class="rd"/><path d="M165.89 516.46L166.66 515.45" class="s"/><path d="M165.71 516.70L166.84 515.21" class="rd"/><path d="M166.66 515.45L167.42 514.64" class="s"/><path d="M166.45 515.67L167.63 514.42" class="rd"/><path d="M167.42 514.64L168.19 514.05" class="s"/><path d="M167.19 514.82L168.42 513.86" class="rd"/><path d="M168.19 514.05L168.95 513.84" class="s"/><path d="M167.90 514.12L169.24 513.77" class="rd"/><path d="M168.95 513.84L169.72 514.03" class="s"/><path d="M168.66 513.78L170.01 514.09" class="rd"/><path d="M169.72 514.03L170.48 514.29" class="s"/><path d="M169.43 513.93L170.77 514.38" class="rd"/><path d="M170.48 514.29L171.25 514.71" class="s"/><path d="M170.22 514.14L171.51 514.86" class="rd"/><path d="M171.25 514.71L172.01 515.10" class="s"/><path d="M170.98 514.57L172.28 515.24" class="rd"/><path d="M172.01 515.10L172.78 515.31" class="s"/><path d="M171.72 515.03L173.07 515.39" class="rd"/><path d="M172.78 515.31L173.54 515.18" class="s"/><path d="M172.48 515.36L173.84 515.13" class="rd"/><path d="M173.54 515.18L174.31 514.77" class="s"/><path d="M173.28 515.32L174.57 514.63" class="rd"/><path d="M174.31 514.77L175.07 514.18" class="s"/><path d="M174.07 514.95L175.31 514.00" class="rd"/><path d="M175.07 514.18L175.84 513.49" class="s"/><path d="M174.85 514.38L176.06 513.29" class="rd"/><path d="M175.84 513.49L176.60 512.74" class="s"/><path d="M175.62 513.70L176.82 512.53" class="rd"/><path d="M176.60 512.74L177.37 511.81" class="s"/><path d="M176.41 512.97L177.56 511.57" class="rd"/><path d="M177.37 511.81L178.13 510.80" class="s"/><path d="M177.18 512.04L178.31 510.56" class="rd"/><path d="M178.13 510.80L178.90 509.88" class="s"/><path d="M177.94 511.03L179.09 509.65" class="rd"/><path d="M178.90 509.88L179.66 509.21" class="s"/><path d="M178.67 510.07L179.89 509.01" class="rd"/><path d="M179.66 509.21L180.43 508.83" class="s"/><path d="M179.39 509.34L180.69 508.70" class="rd"/><path d="M180.43 508.83L181.19 508.60" class="s"/><path d="M180.14 508.92L181.48 508.51" class="rd"/><path d="M181.19 508.60L181.96 508.35" class="s"/><path d="M180.90 508.69L182.24 508.26" class="rd"/><path d="M181.96 508.35L182.72 507.98" class="s"/><path d="M181.69 508.49L182.99 507.84" class="rd"/><path d="M182.72 507.98L183.49 507.54" class="s"/><path d="M182.46 508.13L183.75 507.39" class="rd"/><path d="M183.49 507.54L184.25 507.08" class="s"/><path d="M183.23 507.70L184.51 506.92" class="rd"/><path d="M184.25 507.08L185.01 506.57" class="s"/><path d="M184.00 507.24L185.26 506.40" class="rd"/><path d="M185.01 506.57L185.78 506.00" class="s"/><path d="M184.77 506.75L186.02 505.82" class="rd"/><path d="M185.78 506.00L186.54 505.33" class="s"/><path d="M185.55 506.20L186.77 505.13" class="rd"/><path d="M186.54 505.33L187.31 504.52" class="s"/><path d="M186.34 505.54L187.52 504.31" class="rd"/><path d="M187.31 504.52L188.07 503.61" class="s"/><path d="M187.12 504.75L188.27 503.38" class="rd"/><path d="M188.07 503.61L188.84 502.63" class="s"/><path d="M187.89 503.85L189.02 502.39" class="rd"/><path d="M188.84 502.63L189.60 501.64" class="s"/><path d="M188.66 502.87L189.79 501.40" class="rd"/><path d="M189.60 501.64L190.37 500.70" class="s"/><path d="M189.41 501.87L190.56 500.47" class="rd"/><path d="M190.37 500.70L191.13 499.72" class="s"/><path d="M190.18 500.94L191.32 499.48" class="rd"/><path d="M191.13 499.72L191.90 498.57" class="s"/><path d="M190.97 499.97L192.07 498.32" class="rd"/><path d="M191.90 498.57L192.66 497.18" class="s"/><path d="M191.75 498.83L192.81 496.92" class="rd"/><path d="M192.66 497.18L193.43 495.61" class="s"/><path d="M192.53 497.45L193.56 495.34" class="rd"/><path d="M193.43 495.61L194.19 493.92" class="s"/><path d="M193.31 495.88L194.32 493.65" class="rd"/><path d="M194.19 493.92L194.96 492.11" class="s"/><path d="M194.08 494.19L195.08 491.83" class="rd"/><path d="M194.96 492.11L195.72 490.17" class="s"/><path d="M194.85 492.39L195.83 489.89" class="rd"/><path d="M195.72 490.17L196.49 488.09" class="s"/><path d="M195.62 490.46L196.59 487.80" class="rd"/><path d="M196.49 488.09L197.25 485.90" class="s" style="stroke-width:2.0"/><path d="M196.39 488.37L197.35 485.62" class="rd" style="stroke-width:2.0"/><path d="M197.25 485.90L198.02 483.54" class="s" style="stroke-width:2.0"/><path d="M197.16 486.19L198.11 483.26" class="rd" style="stroke-width:2.0"/><path d="M198.02 483.54L198.78 480.87" class="s" style="stroke-width:2.0"/><path d="M197.94 483.83L198.87 480.58" class="rd" style="stroke-width:2.0"/><path d="M198.78 480.87L199.55 477.79" class="s" style="stroke-width:2.0"/><path d="M198.71 481.16L199.62 477.50" class="rd" style="stroke-width:2.0"/><path d="M199.55 477.79L200.31 474.24" class="s" style="stroke-width:2.0"/><path d="M199.48 478.09L200.38 473.95" class="rd" style="stroke-width:2.0"/><path d="M200.31 474.24L201.08 470.33" class="s" style="stroke-width:2.0"/><path d="M200.25 474.54L201.14 470.04" class="rd" style="stroke-width:2.0"/><path d="M201.08 470.33L201.84 466.24" class="s" style="stroke-width:2.0"/><path d="M201.02 470.63L201.90 465.94" class="rd" style="stroke-width:2.0"/><path d="M201.84 466.24L202.61 462.09" class="s" style="stroke-width:2.0"/><path d="M201.79 466.53L202.66 461.80" class="rd" style="stroke-width:2.0"/><path d="M202.61 462.09L203.37 458.05" class="s" style="stroke-width:2.0"/><path d="M202.55 462.39L203.43 457.76" class="rd" style="stroke-width:2.0"/><path d="M203.37 458.05L204.14 454.06" class="s" style="stroke-width:2.0"/><path d="M203.32 458.35L204.19 453.77" class="rd" style="stroke-width:2.0"/><path d="M204.14 454.06L204.90 449.95" class="s" style="stroke-width:2.0"/><path d="M204.08 454.36L204.96 449.65" class="rd" style="stroke-width:2.0"/><path d="M204.90 449.95L205.67 445.49" class="s" style="stroke-width:2.0"/><path d="M204.85 450.24L205.72 445.20" class="rd" style="stroke-width:2.0"/><path d="M205.67 445.49L206.43 440.65" class="s" style="stroke-width:2.0"/><path d="M205.62 445.79L206.48 440.35" class="rd" style="stroke-width:2.0"/><path d="M206.43 440.65L207.20 435.27" class="s" style="stroke-width:2.0"/><path d="M206.39 440.94L207.24 434.97" class="rd" style="stroke-width:2.0"/><path d="M207.20 435.27L207.96 429.63" class="s" style="stroke-width:2.0"/><path d="M207.16 435.56L208.00 429.33" class="rd" style="stroke-width:2.0"/><path d="M207.96 429.63L208.73 424.03" class="s" style="stroke-width:2.0"/><path d="M207.92 429.92L208.77 423.74" class="rd" style="stroke-width:2.0"/><path d="M208.73 424.03L209.49 417.66" class="s" style="stroke-width:2.0"/><path d="M208.69 424.33L209.53 417.36" class="rd" style="stroke-width:2.0"/><path d="M209.49 417.66L210.26 409.51" class="s" style="stroke-width:2.0"/><path d="M209.46 417.95L210.28 409.21" class="rd" style="stroke-width:2.0"/><path d="M210.26 409.51L211.02 399.28" class="s" style="stroke-width:2.0"/><path d="M210.23 409.81L211.04 398.98" class="rd" style="stroke-width:2.0"/><path d="M211.02 399.28L211.79 387.81" class="s" style="stroke-width:2.0"/><path d="M211.00 399.58L211.81 387.51" class="rd" style="stroke-width:2.0"/><path d="M211.79 387.81L212.55 375.98" class="s" style="stroke-width:2.0"/><path d="M211.77 388.11L212.57 375.68" class="rd" style="stroke-width:2.0"/><path d="M212.55 375.98L213.32 363.97" class="s" style="stroke-width:2.0"/><path d="M212.53 376.28L213.33 363.67" class="rd" style="stroke-width:2.0"/><path d="M213.32 363.97L214.08 351.12" class="s" style="stroke-width:2.0"/><path d="M213.30 364.27L214.10 350.82" class="rd" style="stroke-width:2.0"/><path d="M214.08 351.12L214.85 336.24" class="s" style="stroke-width:2.0"/><path d="M214.06 351.42L214.86 335.94" class="rd" style="stroke-width:2.0"/><path d="M214.85 336.24L215.61 317.91" class="s" style="stroke-width:2.0"/><path d="M214.83 336.54L215.62 317.61" class="rd" style="stroke-width:2.0"/><path d="M215.61 317.91L216.38 290.36" class="s" style="stroke-width:2.0"/><path d="M215.60 318.21L216.38 290.06" class="rd" style="stroke-width:2.0"/><path d="M216.38 290.36L217.14 256.68" class="s" style="stroke-width:2.0"/><path d="M216.37 290.66L217.15 256.38" class="rd" style="stroke-width:2.0"/><path d="M217.14 256.68L217.90 232.26" class="s" style="stroke-width:2.0"/><path d="M217.13 256.98L217.91 231.96" class="rd" style="stroke-width:2.0"/><path d="M217.90 232.26L218.67 214.81" class="s" style="stroke-width:2.0"/><path d="M217.89 232.56L218.68 214.51" class="rd" style="stroke-width:2.0"/><path d="M218.67 214.81L219.43 168.85" class="s" style="stroke-width:2.0"/><path d="M218.66 215.11L219.44 168.55" class="rd" style="stroke-width:2.0"/><path d="M219.43 168.85L220.20 153.44" class="s" style="stroke-width:2.0"/><path d="M219.42 169.15L220.21 153.14" class="rd" style="stroke-width:2.0"/><path d="M220.20 153.44L220.96 148.88" class="s" style="stroke-width:2.0"/><path d="M220.15 153.74L221.01 148.58" class="rd" style="stroke-width:2.0"/><path d="M220.96 148.88L221.73 146.62" class="s" style="stroke-width:2.0"/><path d="M220.87 149.16L221.83 146.34" class="rd" style="stroke-width:2.0"/><path d="M221.73 146.62L222.49 145.17" class="s" style="stroke-width:2.0"/><path d="M221.59 146.89L222.63 144.90" class="rd" style="stroke-width:2.0"/><path d="M222.49 145.17L223.26 144.18" class="s" style="stroke-width:2.0"/><path d="M222.31 145.40L223.44 143.94" class="rd" style="stroke-width:2.0"/><path d="M223.26 144.18L224.02 143.53" class="s" style="stroke-width:2.0"/><path d="M223.03 144.37L224.25 143.33" class="rd" style="stroke-width:2.0"/><path d="M224.02 143.53L224.79 143.14" class="s" style="stroke-width:2.0"/><path d="M223.76 143.66L225.06 143.01" class="rd" style="stroke-width:2.0"/><path d="M224.79 143.14L225.55 143.00" class="s" style="stroke-width:2.0"/><path d="M224.49 143.20L225.85 142.95" class="rd" style="stroke-width:2.0"/><path d="M225.55 143.00L226.32 143.10" class="s" style="stroke-width:2.0"/><path d="M225.26 142.97L226.62 143.14" class="rd" style="stroke-width:2.0"/><path d="M226.32 143.10L227.08 143.43" class="s" style="stroke-width:2.0"/><path d="M226.04 142.98L227.36 143.55" class="rd" style="stroke-width:2.0"/><path d="M227.08 143.43L227.85 144.04" class="s" style="stroke-width:2.0"/><path d="M226.85 143.25L228.08 144.23" class="rd" style="stroke-width:2.0"/><path d="M227.85 144.04L228.61 144.98" class="s" style="stroke-width:2.0"/><path d="M227.66 143.81L228.80 145.21" class="rd" style="stroke-width:2.0"/><path d="M228.61 144.98L229.38 146.36" class="s" style="stroke-width:2.0"/><path d="M228.47 144.71L229.52 146.62" class="rd" style="stroke-width:2.0"/><path d="M229.38 146.36L230.14 148.50" class="s" style="stroke-width:2.0"/><path d="M229.28 146.07L230.24 148.78" class="rd" style="stroke-width:2.0"/><path d="M230.14 148.50L230.91 152.79" class="s" style="stroke-width:2.0"/><path d="M230.09 148.20L230.96 153.09" class="rd" style="stroke-width:2.0"/><path d="M230.91 152.79L231.67 170.34" class="s" style="stroke-width:2.0"/><path d="M230.89 152.49L231.69 170.64" class="rd" style="stroke-width:2.0"/><path d="M231.67 170.34L232.44 237.53" class="s" style="stroke-width:2.0"/><path d="M231.67 170.04L232.44 237.83" class="rd" style="stroke-width:2.0"/><path d="M232.44 237.53L233.20 267.67" class="s" style="stroke-width:2.0"/><path d="M232.43 237.23L233.21 267.97" class="rd" style="stroke-width:2.0"/><path d="M233.20 267.67L233.97 298.73" class="s" style="stroke-width:2.0"/><path d="M233.19 267.37L233.97 299.03" class="rd" style="stroke-width:2.0"/><path d="M233.97 298.73L234.73 324.98" class="s" style="stroke-width:2.0"/><path d="M233.96 298.43L234.74 325.28" class="rd" style="stroke-width:2.0"/><path d="M234.73 324.98L235.50 354.74" class="s" style="stroke-width:2.0"/><path d="M234.72 324.68L235.50 355.04" class="rd" style="stroke-width:2.0"/><path d="M235.50 354.74L236.26 377.84" class="s" style="stroke-width:2.0"/><path d="M235.49 354.44L236.27 378.14" class="rd" style="stroke-width:2.0"/><path d="M236.26 377.84L237.03 386.40" class="s" style="stroke-width:2.0"/><path d="M236.24 377.54L237.05 386.70" class="rd" style="stroke-width:2.0"/><path d="M237.03 386.40L237.79 394.30" class="s" style="stroke-width:2.0"/><path d="M237.00 386.11L237.82 394.60" class="rd" style="stroke-width:2.0"/><path d="M237.79 394.30L238.56 402.83" class="s" style="stroke-width:2.0"/><path d="M237.76 394.00L238.58 403.13" class="rd" style="stroke-width:2.0"/><path d="M238.56 402.83L239.32 407.99" class="s" style="stroke-width:2.0"/><path d="M238.51 402.53L239.37 408.29" class="rd" style="stroke-width:2.0"/><path d="M239.32 407.99L240.09 412.04" class="s" style="stroke-width:2.0"/><path d="M239.27 407.70L240.14 412.33" class="rd" style="stroke-width:2.0"/><path d="M240.09 412.04L240.85 416.17" class="s" style="stroke-width:2.0"/><path d="M240.03 411.74L240.91 416.47" class="rd" style="stroke-width:2.0"/><path d="M240.85 416.17L241.62 420.58" class="s" style="stroke-width:2.0"/><path d="M240.80 415.88L241.67 420.88" class="rd" style="stroke-width:2.0"/><path d="M241.62 420.58L242.38 425.21" class="s" style="stroke-width:2.0"/><path d="M241.57 420.29L242.43 425.50" class="rd" style="stroke-width:2.0"/><path d="M242.38 425.21L243.15 429.66" class="s" style="stroke-width:2.0"/><path d="M242.33 424.91L243.20 429.95" class="rd" style="stroke-width:2.0"/><path d="M243.15 429.66L243.91 433.92" class="s" style="stroke-width:2.0"/><path d="M243.09 429.36L243.96 434.22" class="rd" style="stroke-width:2.0"/><path d="M243.91 433.92L244.68 438.12" class="s" style="stroke-width:2.0"/><path d="M243.86 433.62L244.73 438.41" class="rd" style="stroke-width:2.0"/><path d="M244.68 438.12L245.44 442.28" class="s" style="stroke-width:2.0"/><path d="M244.62 437.82L245.49 442.58" class="rd" style="stroke-width:2.0"/><path d="M245.44 442.28L246.21 446.43" class="s" style="stroke-width:2.0"/><path d="M245.39 441.99L246.26 446.72" class="rd" style="stroke-width:2.0"/><path d="M246.21 446.43L246.97 450.53" class="s" style="stroke-width:2.0"/><path d="M246.15 446.13L247.03 450.83" class="rd" style="stroke-width:2.0"/><path d="M246.97 450.53L247.74 454.59" class="s" style="stroke-width:2.0"/><path d="M246.91 450.24L247.79 454.89" class="rd" style="stroke-width:2.0"/><path d="M247.74 454.59L248.50 458.38" class="s"/><path d="M247.68 454.30L248.56 458.67" class="rd"/><path d="M248.50 458.38L249.26 460.44" class="s"/><path d="M248.40 458.10L249.37 460.73" class="rd"/><path d="M249.26 460.44L250.03 462.40" class="s"/><path d="M249.16 460.16L250.14 462.68" class="rd"/><path d="M250.03 462.40L250.79 464.18" class="s"/><path d="M249.91 462.13L250.91 464.45" class="rd"/><path d="M250.79 464.18L251.56 465.75" class="s"/><path d="M250.66 463.91L251.69 466.02" class="rd"/><path d="M251.56 465.75L252.32 467.23" class="s"/><path d="M251.42 465.48L252.46 467.50" class="rd"/><path d="M252.32 467.23L253.09 468.70" class="s"/><path d="M252.19 466.97L253.23 468.97" class="rd"/><path d="M253.09 468.70L253.85 470.21" class="s"/><path d="M252.95 468.44L253.99 470.48" class="rd"/><path d="M253.85 470.21L254.62 471.78" class="s"/><path d="M253.72 469.94L254.75 472.05" class="rd"/><path d="M254.62 471.78L255.38 473.37" class="s"/><path d="M254.49 471.51L255.51 473.64" class="rd"/><path d="M255.38 473.37L256.15 474.94" class="s"/><path d="M255.25 473.10L256.28 475.21" class="rd"/><path d="M256.15 474.94L256.91 476.43" class="s"/><path d="M256.01 474.67L257.05 476.70" class="rd"/><path d="M256.91 476.43L257.68 477.81" class="s"/><path d="M256.77 476.17L257.82 478.07" class="rd"/><path d="M257.68 477.81L258.44 479.07" class="s"/><path d="M257.52 477.55L258.60 479.33" class="rd"/><path d="M258.44 479.07L259.21 480.25" class="s"/><path d="M258.28 478.82L259.37 480.50" class="rd"/><path d="M259.21 480.25L259.97 481.35" class="s"/><path d="M259.04 480.00L260.14 481.60" class="rd"/><path d="M259.97 481.35L260.74 482.41" class="s"/><path d="M259.80 481.11L260.91 482.65" class="rd"/><path d="M260.74 482.41L261.50 483.43" class="s"/><path d="M260.56 482.17L261.68 483.67" class="rd"/><path d="M261.50 483.43L262.27 484.41" class="s"/><path d="M261.32 483.20L262.45 484.65" class="rd"/><path d="M262.27 484.41L263.03 485.34" class="s"/><path d="M262.08 484.18L263.22 485.57" class="rd"/><path d="M263.03 485.34L263.80 486.22" class="s"/><path d="M262.84 485.11L263.99 486.44" class="rd"/><path d="M263.80 486.22L264.56 487.05" class="s"/><path d="M263.59 486.00L264.77 487.27" class="rd"/><path d="M264.56 487.05L265.33 487.83" class="s"/><path d="M264.35 486.83L265.54 488.05" class="rd"/><path d="M265.33 487.83L266.09 488.60" class="s"/><path d="M265.12 487.62L266.30 488.81" class="rd"/><path d="M266.09 488.60L266.86 489.26" class="s"/><path d="M265.87 488.40L267.08 489.46" class="rd"/><path d="M266.86 489.26L267.62 489.76" class="s"/><path d="M266.61 489.10L267.87 489.92" class="rd"/><path d="M267.62 489.76L268.39 490.13" class="s"/><path d="M267.35 489.63L268.66 490.26" class="rd"/><path d="M268.39 490.13L269.15 490.41" class="s"/><path d="M268.11 490.02L269.43 490.52" class="rd"/><path d="M269.15 490.41L269.92 490.65" class="s"/><path d="M268.86 490.32L270.20 490.73" class="rd"/><path d="M269.92 490.65L270.68 490.84" class="s"/><path d="M269.63 490.57L270.97 490.92" class="rd"/><path d="M270.68 490.84L271.45 491.01" class="s"/><path d="M270.39 490.78L271.74 491.07" class="rd"/><path d="M271.45 491.01L272.21 491.14" class="s"/><path d="M271.15 490.95L272.51 491.19" class="rd"/><path d="M272.21 491.14L272.98 491.24" class="s"/><path d="M271.91 491.10L273.27 491.28" class="rd"/><path d="M272.98 491.24L273.74 491.28" class="s"/><path d="M272.68 491.22L274.04 491.30" class="rd"/><path d="M273.74 491.28L274.51 491.25" class="s"/><path d="M273.44 491.29L274.81 491.24" class="rd"/><path d="M274.51 491.25L275.27 491.17" class="s"/><path d="M274.21 491.28L275.57 491.14" class="rd"/><path d="M275.27 491.17L276.04 491.07" class="s"/><path d="M274.97 491.21L276.33 491.02" class="rd"/><path d="M276.04 491.07L276.80 490.96" class="s"/><path d="M275.74 491.11L277.10 490.92" class="rd"/><path d="M276.80 490.96L277.57 490.90" class="s"/><path d="M276.50 490.99L277.86 490.87" class="rd"/><path d="M277.57 490.90L278.33 490.82" class="s"/><path d="M277.27 490.93L278.63 490.79" class="rd"/><path d="M278.33 490.82L279.10 490.78" class="s"/><path d="M278.03 490.84L279.39 490.76" class="rd"/><path d="M279.10 490.78L279.86 490.95" class="s"/><path d="M278.80 490.71L280.15 491.02" class="rd"/><path d="M279.86 490.95L280.62 491.26" class="s"/><path d="M279.58 490.84L280.90 491.37" class="rd"/><path d="M280.62 491.26L281.39 491.65" class="s"/><path d="M280.36 491.13L281.66 491.79" class="rd"/><path d="M281.39 491.65L282.15 492.08" class="s"/><path d="M281.13 491.51L282.42 492.22" class="rd"/><path d="M282.15 492.08L282.92 492.50" class="s"/><path d="M281.89 491.93L283.18 492.65" class="rd"/><path d="M282.92 492.50L283.68 492.91" class="s"/><path d="M282.65 492.36L283.95 493.05" class="rd"/><path d="M283.68 492.91L284.45 493.27" class="s"/><path d="M283.41 492.78L284.72 493.40" class="rd"/><path d="M284.45 493.27L285.21 493.58" class="s"/><path d="M284.17 493.16L285.49 493.69" class="rd"/><path d="M285.21 493.58L285.98 493.83" class="s"/><path d="M284.93 493.48L286.26 493.92" class="rd"/><path d="M285.98 493.83L286.74 494.04" class="s"/><path d="M285.69 493.75L287.03 494.12" class="rd"/><path d="M286.74 494.04L287.51 494.23" class="s"/><path d="M286.45 493.97L287.80 494.30" class="rd"/><path d="M287.51 494.23L288.27 494.39" class="s"/><path d="M287.22 494.17L288.57 494.45" class="rd"/><path d="M288.27 494.39L289.04 494.53" class="s"/><path d="M287.98 494.33L289.33 494.59" class="rd"/><path d="M289.04 494.53L289.80 494.67" class="s"/><path d="M288.74 494.48L290.10 494.72" class="rd"/><path d="M289.80 494.67L290.57 494.81" class="s"/><path d="M289.51 494.61L290.86 494.86" class="rd"/><path d="M290.57 494.81L291.33 494.98" class="s"/><path d="M290.28 494.74L291.63 495.04" class="rd"/><path d="M291.33 494.98L292.10 495.14" class="s"/><path d="M291.04 494.92L292.39 495.21" class="rd"/><path d="M292.10 495.14L292.86 495.26" class="s"/><path d="M291.80 495.10L293.16 495.31" class="rd"/><path d="M292.86 495.26L293.63 495.31" class="s"/><path d="M292.56 495.24L293.93 495.33" class="rd"/><path d="M293.63 495.31L294.39 495.28" class="s"/><path d="M293.33 495.32L294.69 495.27" class="rd"/><path d="M294.39 495.28L295.16 495.17" class="s"/><path d="M294.10 495.32L295.45 495.13" class="rd"/><path d="M295.16 495.17L295.92 495.00" class="s"/><path d="M294.86 495.24L296.22 494.94" class="rd"/><path d="M295.92 495.00L296.69 494.79" class="s"/><path d="M295.63 495.08L296.98 494.71" class="rd"/><path d="M296.69 494.79L297.45 494.54" class="s"/><path d="M296.40 494.88L297.74 494.45" class="rd"/><path d="M297.45 494.54L298.22 494.28" class="s"/><path d="M297.17 494.64L298.50 494.18" class="rd"/><path d="M298.22 494.28L298.98 494.00" class="s"/><path d="M297.94 494.38L299.26 493.89" class="rd"/><path d="M298.98 494.00L299.75 493.70" class="s"/><path d="M298.70 494.10L300.03 493.59" class="rd"/><path d="M299.75 493.70L300.51 493.40" class="s"/><path d="M299.47 493.81L300.79 493.29" class="rd"/><path d="M300.51 493.40L301.28 493.09" class="s"/><path d="M300.23 493.51L301.56 492.98" class="rd"/><path d="M301.28 493.09L302.04 492.78" class="s"/><path d="M301.00 493.20L302.32 492.67" class="rd"/><path d="M302.04 492.78L302.81 492.48" class="s"/><path d="M301.76 492.89L303.09 492.37" class="rd"/><path d="M302.81 492.48L303.57 492.18" class="s"/><path d="M302.53 492.59L303.85 492.07" class="rd"/><path d="M303.57 492.18L304.34 491.88" class="s"/><path d="M303.29 492.29L304.62 491.78" class="rd"/><path d="M304.34 491.88L305.10 491.58" class="s"/><path d="M304.06 491.99L305.38 491.47" class="rd"/><path d="M305.10 491.58L305.87 491.28" class="s"/><path d="M304.82 491.70L306.14 491.16" class="rd"/><path d="M305.87 491.28L306.63 490.96" class="s"/><path d="M305.59 491.39L306.91 490.84" class="rd"/><path d="M306.63 490.96L307.40 490.62" class="s"/><path d="M306.36 491.08L307.67 490.50" class="rd"/><path d="M307.40 490.62L308.16 490.26" class="s"/><path d="M307.12 490.75L308.43 490.13" class="rd"/><path d="M308.16 490.26L308.93 489.86" class="s"/><path d="M307.89 490.39L309.19 489.73" class="rd"/><path d="M308.93 489.86L309.69 489.44" class="s"/><path d="M308.66 490.01L309.95 489.29" class="rd"/><path d="M309.69 489.44L310.46 488.96" class="s"/><path d="M309.44 489.59L310.71 488.80" class="rd"/><path d="M310.46 488.96L311.22 488.44" class="s"/><path d="M310.21 489.13L311.47 488.27" class="rd"/><path d="M311.22 488.44L311.99 487.88" class="s"/><path d="M310.98 488.62L312.23 487.70" class="rd"/><path d="M311.99 487.88L312.75 487.28" class="s"/><path d="M311.75 488.06L312.99 487.09" class="rd"/><path d="M312.75 487.28L313.51 486.65" class="s"/><path d="M312.52 487.47L313.75 486.46" class="rd"/><path d="M313.51 486.65L314.28 485.99" class="s"/><path d="M313.29 486.84L314.51 485.79" class="rd"/><path d="M314.28 485.99L315.04 485.31" class="s"/><path d="M314.06 486.19L315.27 485.11" class="rd"/><path d="M315.04 485.31L315.81 484.62" class="s"/><path d="M314.82 485.51L316.03 484.42" class="rd"/><path d="M315.81 484.62L316.57 483.93" class="s"/><path d="M315.59 484.82L316.80 483.73" class="rd"/><path d="M316.57 483.93L317.34 483.22" class="s"/><path d="M316.35 484.14L317.56 483.02" class="rd"/><path d="M317.34 483.22L318.10 482.47" class="s"/><path d="M317.12 483.43L318.32 482.26" class="rd"/><path d="M318.10 482.47L318.87 481.70" class="s"/><path d="M317.89 482.69L319.08 481.49" class="rd"/><path d="M318.87 481.70L319.63 480.91" class="s"/><path d="M318.66 481.91L319.84 480.70" class="rd"/><path d="M319.63 480.91L320.40 480.12" class="s"/><path d="M319.43 481.13L320.61 479.90" class="rd"/><path d="M320.40 480.12L321.16 479.33" class="s"/><path d="M320.19 480.33L321.37 479.11" class="rd"/><path d="M321.16 479.33L321.93 478.56" class="s"/><path d="M320.95 479.54L322.14 478.34" class="rd"/><path d="M321.93 478.56L322.69 477.82" class="s"/><path d="M321.71 478.77L322.91 477.61" class="rd"/><path d="M322.69 477.82L323.46 477.11" class="s"/><path d="M322.47 478.02L323.68 476.90" class="rd"/><path d="M323.46 477.11L324.22 476.42" class="s"/><path d="M323.24 477.31L324.45 476.22" class="rd"/><path d="M324.22 476.42L324.99 475.74" class="s"/><path d="M324.00 476.62L325.21 475.55" class="rd"/><path d="M324.99 475.74L325.75 475.08" class="s"/><path d="M324.76 475.94L325.98 474.88" class="rd"/><path d="M325.75 475.08L326.52 474.40" class="s"/><path d="M325.53 475.27L326.74 474.20" class="rd"/><path d="M326.52 474.40L327.28 473.70" class="s"/><path d="M326.30 474.60L327.50 473.50" class="rd"/><path d="M327.28 473.70L328.05 472.97" class="s"/><path d="M327.07 473.91L328.26 472.76" class="rd"/><path d="M328.05 472.97L328.81 472.18" class="s"/><path d="M327.84 473.18L329.02 471.96" class="rd"/><path d="M328.81 472.18L329.58 471.37" class="s"/><path d="M328.61 472.40L329.78 471.15" class="rd"/><path d="M329.58 471.37L330.34 470.56" class="s"/><path d="M329.37 471.58L330.55 470.35" class="rd"/><path d="M330.34 470.56L331.11 469.83" class="s"/><path d="M330.13 470.77L331.32 469.62" class="rd"/><path d="M331.11 469.83L331.87 469.23" class="s"/><path d="M330.87 470.01L332.11 469.04" class="rd"/><path d="M331.87 469.23L332.64 468.79" class="s"/><path d="M331.61 469.37L332.90 468.65" class="rd"/><path d="M332.64 468.79L333.40 468.59" class="s"/><path d="M332.35 468.87L333.69 468.52" class="rd"/><path d="M333.40 468.59L334.17 468.48" class="s"/><path d="M333.11 468.64L334.46 468.43" class="rd"/><path d="M334.17 468.48L334.93 468.42" class="s"/><path d="M333.87 468.50L335.23 468.40" class="rd"/><path d="M334.93 468.42L335.70 468.42" class="s"/><path d="M334.63 468.43L336.00 468.41" class="rd"/><path d="M335.70 468.42L336.46 468.43" class="s"/><path d="M335.40 468.41L336.76 468.44" class="rd"/><path d="M336.46 468.43L337.23 468.47" class="s"/><path d="M336.16 468.42L337.53 468.48" class="rd"/><path d="M337.23 468.47L337.99 468.50" class="s"/><path d="M336.93 468.45L338.29 468.51" class="rd"/><path d="M337.99 468.50L338.76 468.47" class="s"/><path d="M337.69 468.51L339.06 468.46" class="rd"/><path d="M338.76 468.47L339.52 468.42" class="s"/><path d="M338.46 468.49L339.82 468.41" class="rd"/><path d="M339.52 468.42L340.29 468.64" class="s"/><path d="M339.23 468.34L340.57 468.72" class="rd"/><path d="M340.29 468.64L341.05 469.13" class="s"/><path d="M340.03 468.47L341.30 469.29" class="rd"/><path d="M341.05 469.13L341.82 469.78" class="s"/><path d="M340.82 468.93L342.04 469.98" class="rd"/><path d="M341.82 469.78L342.58 470.53" class="s"/><path d="M341.60 469.58L342.80 470.74" class="rd"/><path d="M342.58 470.53L343.35 471.32" class="s"/><path d="M342.37 470.32L343.55 471.53" class="rd"/><path d="M343.35 471.32L344.11 472.11" class="s"/><path d="M343.14 471.10L344.32 472.33" class="rd"/><path d="M344.11 472.11L344.88 472.92" class="s"/><path d="M343.90 471.90L345.08 473.14" class="rd"/><path d="M344.88 472.92L345.64 473.75" class="s"/><path d="M344.67 472.70L345.84 473.97" class="rd"/><path d="M345.64 473.75L346.40 474.60" class="s"/><path d="M345.44 473.52L346.60 474.82" class="rd"/><path d="M346.40 474.60L347.17 475.49" class="s"/><path d="M346.21 474.37L347.37 475.72" class="rd"/><path d="M347.17 475.49L347.93 476.42" class="s"/><path d="M346.98 475.26L348.13 476.65" class="rd"/><path d="M347.93 476.42L348.70 477.42" class="s"/><path d="M347.75 476.18L348.88 477.66" class="rd"/><path d="M348.70 477.42L349.46 478.50" class="s"/><path d="M348.53 477.18L349.64 478.75" class="rd"/><path d="M349.46 478.50L350.23 479.61" class="s"/><path d="M349.29 478.26L350.40 479.86" class="rd"/><path d="M350.23 479.61L350.99 480.70" class="s"/><path d="M350.06 479.37L351.17 480.94" class="rd"/><path d="M350.99 480.70L351.76 481.71" class="s"/><path d="M350.81 480.46L351.94 481.95" class="rd"/><path d="M351.76 481.71L352.52 482.61" class="s"/><path d="M351.57 481.48L352.72 482.84" class="rd"/><path d="M352.52 482.61L353.29 483.47" class="s"/><path d="M352.32 482.39L353.49 483.70" class="rd"/><path d="M353.29 483.47L354.05 484.27" class="s"/><path d="M353.08 483.26L354.26 484.49" class="rd"/><path d="M354.05 484.27L354.82 485.00" class="s"/><path d="M353.84 484.07L355.04 485.21" class="rd"/><path d="M354.82 485.00L355.58 485.67" class="s"/><path d="M354.59 484.81L355.81 485.86" class="rd"/><path d="M355.58 485.67L356.35 486.26" class="s"/><path d="M355.35 485.48L356.58 486.45" class="rd"/><path d="M356.35 486.26L357.11 486.81" class="s"/><path d="M356.10 486.09L357.36 486.98" class="rd"/><path d="M357.11 486.81L357.88 487.30" class="s"/><path d="M356.86 486.64L358.13 487.46" class="rd"/><path d="M357.88 487.30L358.64 487.75" class="s"/><path d="M357.62 487.15L358.90 487.91" class="rd"/><path d="M358.64 487.75L359.41 488.18" class="s"/><path d="M358.38 487.61L359.67 488.32" class="rd"/><path d="M359.41 488.18L360.17 488.58" class="s"/><path d="M359.14 488.04L360.44 488.72" class="rd"/><path d="M360.17 488.58L360.94 488.97" class="s"/><path d="M359.91 488.44L361.21 489.10" class="rd"/><path d="M360.94 488.97L361.70 489.34" class="s"/><path d="M360.67 488.84L361.97 489.48" class="rd"/><path d="M361.70 489.34L362.47 489.71" class="s"/><path d="M361.43 489.22L362.74 489.84" class="rd"/><path d="M362.47 489.71L363.23 490.06" class="s"/><path d="M362.19 489.58L363.50 490.18" class="rd"/><path d="M363.23 490.06L364.00 490.40" class="s"/><path d="M362.96 489.94L364.27 490.52" class="rd"/><path d="M364.00 490.40L364.76 490.73" class="s"/><path d="M363.72 490.28L365.04 490.85" class="rd"/><path d="M364.76 490.73L365.53 491.05" class="s"/><path d="M364.49 490.61L365.80 491.16" class="rd"/><path d="M365.53 491.05L366.29 491.36" class="s"/><path d="M365.25 490.93L366.57 491.47" class="rd"/><path d="M366.29 491.36L367.06 491.65" class="s"/><path d="M366.01 491.25L367.34 491.76" class="rd"/><path d="M367.06 491.65L367.82 491.94" class="s"/><path d="M366.78 491.55L368.10 492.04" class="rd"/><path d="M367.82 491.94L368.59 492.21" class="s"/><path d="M367.54 491.84L368.87 492.30" class="rd"/><path d="M368.59 492.21L369.35 492.46" class="s"/><path d="M368.30 492.11L369.64 492.56" class="rd"/><path d="M369.35 492.46L370.12 492.70" class="s"/><path d="M369.07 492.37L370.40 492.79" class="rd"/><path d="M370.12 492.70L370.88 492.93" class="s"/><path d="M369.83 492.62L371.17 493.02" class="rd"/><path d="M370.88 492.93L371.65 493.15" class="s"/><path d="M370.59 492.85L371.93 493.23" class="rd"/><path d="M371.65 493.15L372.41 493.36" class="s"/><path d="M371.36 493.07L372.70 493.44" class="rd"/><path d="M372.41 493.36L373.18 493.56" class="s"/><path d="M372.12 493.28L373.47 493.63" class="rd"/><path d="M373.18 493.56L373.94 493.75" class="s"/><path d="M372.88 493.48L374.23 493.82" class="rd"/><path d="M373.94 493.75L374.71 493.93" class="s"/><path d="M373.65 493.68L375.00 494.00" class="rd"/><path d="M374.71 493.93L375.47 494.11" class="s"/><path d="M374.41 493.86L375.76 494.18" class="rd"/><path d="M375.47 494.11L376.24 494.28" class="s"/><path d="M375.18 494.04L376.53 494.34" class="rd"/><path d="M376.24 494.28L377.00 494.44" class="s"/><path d="M375.94 494.21L377.29 494.50" class="rd"/><path d="M377.00 494.44L377.76 494.59" class="s"/><path d="M376.71 494.38L378.06 494.65" class="rd"/><path d="M377.76 494.59L378.53 494.74" class="s"/><path d="M377.47 494.54L378.82 494.80" class="rd"/><path d="M378.53 494.74L379.29 494.88" class="s"/><path d="M378.23 494.69L379.59 494.93" class="rd"/><path d="M379.29 494.88L380.06 495.01" class="s"/><path d="M379.00 494.83L380.36 495.06" class="rd"/><path d="M380.06 495.01L380.82 495.12" class="s"/><path d="M379.76 494.96L381.12 495.16" class="rd"/><path d="M380.82 495.12L381.59 495.21" class="s"/><path d="M380.53 495.08L381.89 495.25" class="rd"/><path d="M381.59 495.21L382.35 495.27" class="s"/><path d="M381.29 495.19L382.65 495.29" class="rd"/><path d="M382.35 495.27L383.12 495.25" class="s"/><path d="M382.05 495.28L383.42 495.25" class="rd"/><path d="M383.12 495.25L383.88 495.08" class="s"/><path d="M382.83 495.32L384.18 495.01" class="rd"/><path d="M383.88 495.08L384.65 494.84" class="s"/><path d="M383.60 495.17L384.93 494.75" class="rd"/><path d="M384.65 494.84L385.41 494.66" class="s"/><path d="M384.36 494.90L385.71 494.59" class="rd"/><path d="M385.41 494.66L386.18 494.49" class="s"/><path d="M385.12 494.72L386.47 494.42" class="rd"/><path d="M386.18 494.49L386.94 494.31" class="s"/><path d="M385.89 494.55L387.24 494.24" class="rd"/><path d="M386.94 494.31L387.71 494.12" class="s"/><path d="M386.65 494.38L388.00 494.05" class="rd"/><path d="M387.71 494.12L388.47 493.93" class="s"/><path d="M387.42 494.20L388.76 493.85" class="rd"/><path d="M388.47 493.93L389.24 493.72" class="s"/><path d="M388.18 494.00L389.53 493.64" class="rd"/><path d="M389.24 493.72L390.00 493.50" class="s"/><path d="M388.95 493.80L390.29 493.42" class="rd"/><path d="M390.00 493.50L390.77 493.24" class="s"/><path d="M389.72 493.60L391.05 493.14" class="rd"/><path d="M390.77 493.24L391.53 492.93" class="s"/><path d="M390.49 493.35L391.81 492.82" class="rd"/><path d="M391.53 492.93L392.30 492.61" class="s"/><path d="M391.26 493.05L392.57 492.50" class="rd"/><path d="M392.30 492.61L393.06 492.31" class="s"/><path d="M392.02 492.72L393.34 492.20" class="rd"/><path d="M393.06 492.31L393.83 492.05" class="s"/><path d="M392.78 492.41L394.11 491.95" class="rd"/><path d="M393.83 492.05L394.59 491.84" class="s"/><path d="M393.54 492.13L394.88 491.76" class="rd"/><path d="M394.59 491.84L395.36 491.69" class="s"/><path d="M394.30 491.90L395.65 491.63" class="rd"/><path d="M395.36 491.69L396.12 491.58" class="s"/><path d="M395.06 491.73L396.42 491.54" class="rd"/><path d="M396.12 491.58L396.89 491.51" class="s"/><path d="M395.82 491.61L397.19 491.48" class="rd"/><path d="M396.89 491.51L397.65 491.46" class="s"/><path d="M396.59 491.53L397.95 491.43" class="rd"/><path d="M397.65 491.46L398.42 491.41" class="s"/><path d="M397.35 491.47L398.72 491.39" class="rd"/><path d="M398.42 491.41L399.18 491.37" class="s"/><path d="M398.12 491.43L399.48 491.35" class="rd"/><path d="M399.18 491.37L399.95 491.32" class="s"/><path d="M398.88 491.38L400.25 491.30" class="rd"/><path d="M399.95 491.32L400.71 491.25" class="s"/><path d="M399.65 491.34L401.01 491.23" class="rd"/><path d="M400.71 491.25L401.48 491.17" class="s"/><path d="M400.41 491.29L401.77 491.14" class="rd"/><path d="M401.48 491.17L402.24 491.05" class="s"/><path d="M401.18 491.22L402.54 491.01" class="rd"/><path d="M402.24 491.05L403.01 490.88" class="s"/><path d="M401.95 491.12L403.30 490.82" class="rd"/><path d="M403.01 490.88L403.77 490.68" class="s"/><path d="M402.72 490.96L404.06 490.60" class="rd"/><path d="M403.77 490.68L404.54 490.43" class="s"/><path d="M403.49 490.77L404.82 490.34" class="rd"/><path d="M404.54 490.43L405.30 490.13" class="s"/><path d="M404.26 490.54L405.58 490.02" class="rd"/><path d="M405.30 490.13L406.07 489.77" class="s"/><path d="M405.03 490.26L406.34 489.65" class="rd"/><path d="M406.07 489.77L406.83 489.37" class="s"/><path d="M405.80 489.91L407.10 489.24" class="rd"/><path d="M406.83 489.37L407.60 488.94" class="s"/><path d="M406.57 489.52L407.86 488.80" class="rd"/><path d="M407.60 488.94L408.36 488.46" class="s"/><path d="M407.34 489.10L408.61 488.30" class="rd"/><path d="M408.36 488.46L409.12 487.93" class="s"/><path d="M408.11 488.64L409.37 487.75" class="rd"/><path d="M409.12 487.93L409.89 487.35" class="s"/><path d="M408.88 488.11L410.13 487.17" class="rd"/><path d="M409.89 487.35L410.65 486.76" class="s"/><path d="M409.65 487.54L410.89 486.58" class="rd"/><path d="M410.65 486.76L411.42 486.17" class="s"/><path d="M410.42 486.95L411.66 485.98" class="rd"/><path d="M411.42 486.17L412.18 485.59" class="s"/><path d="M411.18 486.35L412.42 485.41" class="rd"/><path d="M412.18 485.59L412.95 485.04" class="s"/><path d="M411.94 485.76L413.19 484.86" class="rd"/><path d="M412.95 485.04L413.71 484.52" class="s"/><path d="M412.70 485.20L413.96 484.36" class="rd"/><path d="M413.71 484.52L414.48 484.04" class="s"/><path d="M413.46 484.68L414.73 483.88" class="rd"/><path d="M414.48 484.04L415.24 483.58" class="s"/><path d="M414.22 484.20L415.50 483.42" class="rd"/><path d="M415.24 483.58L416.01 483.12" class="s"/><path d="M414.99 483.74L416.27 482.96" class="rd"/><path d="M416.01 483.12L416.77 482.64" class="s"/><path d="M415.75 483.28L417.03 482.48" class="rd"/><path d="M416.77 482.64L417.54 482.12" class="s"/><path d="M416.52 482.80L417.79 481.96" class="rd"/><path d="M417.54 482.12L418.30 481.56" class="s"/><path d="M417.30 482.30L418.55 481.39" class="rd"/><path d="M418.30 481.56L419.07 480.94" class="s"/><path d="M418.07 481.75L419.30 480.75" class="rd"/><path d="M419.07 480.94L419.83 480.24" class="s"/><path d="M418.85 481.14L420.05 480.04" class="rd"/><path d="M419.83 480.24L420.60 479.47" class="s"/><path d="M419.62 480.45L420.81 479.26" class="rd"/><path d="M420.60 479.47L421.36 478.66" class="s"/><path d="M420.39 479.69L421.57 478.44" class="rd"/><path d="M421.36 478.66L422.13 477.81" class="s"/><path d="M421.16 478.88L422.33 477.59" class="rd"/><path d="M422.13 477.81L422.89 476.97" class="s"/><path d="M421.93 478.04L423.09 476.74" class="rd"/><path d="M422.89 476.97L423.66 476.13" class="s"/><path d="M422.69 477.19L423.86 475.91" class="rd"/><path d="M423.66 476.13L424.42 475.33" class="s"/><path d="M423.45 476.35L424.63 475.11" class="rd"/><path d="M424.42 475.33L425.19 474.57" class="s"/><path d="M424.21 475.54L425.40 474.36" class="rd"/><path d="M425.19 474.57L425.95 473.84" class="s"/><path d="M424.97 474.77L426.17 473.64" class="rd"/><path d="M425.95 473.84L426.72 473.14" class="s"/><path d="M425.73 474.05L426.94 472.94" class="rd"/><path d="M426.72 473.14L427.48 472.45" class="s"/><path d="M426.49 473.34L427.70 472.25" class="rd"/><path d="M427.48 472.45L428.25 471.76" class="s"/><path d="M427.26 472.65L428.47 471.56" class="rd"/><path d="M428.25 471.76L429.01 471.08" class="s"/><path d="M428.02 471.96L429.24 470.88" class="rd"/><path d="M429.01 471.08L429.78 470.39" class="s"/><path d="M428.79 471.28L430.00 470.19" class="rd"/><path d="M429.78 470.39L430.54 469.69" class="s"/><path d="M429.56 470.59L430.76 469.48" class="rd"/><path d="M430.54 469.69L431.31 468.97" class="s"/><path d="M430.32 469.89L431.53 468.76" class="rd"/><path d="M431.31 468.97L432.07 468.23" class="s"/><path d="M431.09 469.18L432.29 468.02" class="rd"/><path d="M432.07 468.23L432.84 467.46" class="s"/><path d="M431.86 468.44L433.05 467.25" class="rd"/><path d="M432.84 467.46L433.60 466.68" class="s"/><path d="M432.63 467.68L433.81 466.47" class="rd"/><path d="M433.60 466.68L434.37 465.89" class="s"/><path d="M433.39 466.90L434.57 465.68" class="rd"/><path d="M434.37 465.89L435.13 465.10" class="s"/><path d="M434.16 466.11L435.34 464.88" class="rd"/><path d="M435.13 465.10L435.90 464.29" class="s"/><path d="M434.92 465.31L436.10 464.07" class="rd"/><path d="M435.90 464.29L436.66 463.47" class="s"/><path d="M435.69 464.51L436.87 463.25" class="rd"/><path d="M436.66 463.47L437.43 462.65" class="s"/><path d="M436.46 463.69L437.63 462.43" class="rd"/><path d="M437.43 462.65L438.19 461.81" class="s"/><path d="M437.22 462.87L438.39 461.59" class="rd"/><path d="M438.19 461.81L438.96 460.98" class="s"/><path d="M437.99 462.04L439.16 460.75" class="rd"/><path d="M438.96 460.98L439.72 460.13" class="s"/><path d="M438.75 461.20L439.92 459.91" class="rd"/><path d="M439.72 460.13L440.49 459.28" class="s"/><path d="M439.52 460.36L440.69 459.06" class="rd"/><path d="M440.49 459.28L441.25 458.41" class="s"/><path d="M440.29 459.51L441.45 458.19" class="rd"/><path d="M441.25 458.41L442.01 457.53" class="s"/><path d="M441.05 458.64L442.21 457.30" class="rd"/><path d="M442.01 457.53L442.78 456.63" class="s"/><path d="M441.82 457.76L442.97 456.40" class="rd"/><path d="M442.78 456.63L443.54 455.73" class="s"/><path d="M442.59 456.86L443.74 455.50" class="rd"/><path d="M443.54 455.73L444.31 454.82" class="s"/><path d="M443.35 455.96L444.50 454.59" class="rd"/><path d="M444.31 454.82L445.07 453.91" class="s"/><path d="M444.12 455.05L445.27 453.68" class="rd"/><path d="M445.07 453.91L445.84 453.01" class="s"/><path d="M444.88 454.14L446.03 452.78" class="rd"/><path d="M445.84 453.01L446.60 452.12" class="s"/><path d="M445.64 453.24L446.80 451.89" class="rd"/><path d="M446.60 452.12L447.37 451.25" class="s"/><path d="M446.41 452.34L447.57 451.02" class="rd"/><path d="M447.37 451.25L448.13 450.40" class="s"/><path d="M447.17 451.47L448.33 450.17" class="rd"/><path d="M448.13 450.40L448.90 449.55" class="s"/><path d="M447.93 450.62L449.10 449.33" class="rd"/><path d="M448.90 449.55L449.66 448.73" class="s"/><path d="M448.69 449.77L449.87 448.52" class="rd"/><path d="M449.66 448.73L450.43 448.00" class="s"/><path d="M449.45 448.94L450.65 447.80" class="rd"/><path d="M450.43 448.00L451.19 447.36" class="s"/><path d="M450.20 448.20L451.42 447.17" class="rd"/><path d="M451.19 447.36L451.96 446.78" class="s"/><path d="M450.95 447.54L452.20 446.60" class="rd"/><path d="M451.96 446.78L452.72 446.25" class="s"/><path d="M451.71 446.95L452.97 446.08" class="rd"/><path d="M452.72 446.25L453.49 445.76" class="s"/><path d="M452.47 446.42L453.74 445.60" class="rd"/><path d="M453.49 445.76L454.25 445.31" class="s"/><path d="M453.23 445.92L454.51 445.15" class="rd"/><path d="M454.25 445.31L455.02 444.87" class="s"/><path d="M453.99 445.45L455.28 444.72" class="rd"/><path d="M455.02 444.87L455.78 444.46" class="s"/><path d="M454.75 445.01L456.05 444.32" class="rd"/><path d="M455.78 444.46L456.55 444.08" class="s"/><path d="M455.51 444.60L456.82 443.94" class="rd"/><path d="M456.55 444.08L457.31 443.75" class="s"/><path d="M456.27 444.20L457.59 443.63" class="rd"/><path d="M457.31 443.75L458.08 443.48" class="s"/><path d="M457.03 443.85L458.36 443.38" class="rd"/><path d="M458.08 443.48L458.84 443.24" class="s"/><path d="M457.79 443.57L459.13 443.15" class="rd"/><path d="M458.84 443.24L459.61 443.02" class="s"/><path d="M458.55 443.33L459.89 442.93" class="rd"/><path d="M459.61 443.02L460.37 442.76" class="s"/><path d="M459.32 443.11L460.66 442.67" class="rd"/><path d="M460.37 442.76L461.14 442.43" class="s"/><path d="M460.10 442.88L461.41 442.31" class="rd"/><path d="M461.14 442.43L461.90 442.00" class="s"/><path d="M460.88 442.58L462.16 441.85" class="rd"/><path d="M461.90 442.00L462.67 441.46" class="s"/><path d="M461.66 442.17L462.91 441.28" class="rd"/><path d="M462.67 441.46L463.43 440.89" class="s"/><path d="M462.43 441.63L463.67 440.71" class="rd"/><path d="M463.43 440.89L464.20 440.37" class="s"/><path d="M463.18 441.05L464.45 440.20" class="rd"/><path d="M464.20 440.37L464.96 439.83" class="s"/><path d="M463.95 440.54L465.21 439.66" class="rd"/><path d="M464.96 439.83L465.73 439.29" class="s"/><path d="M464.72 440.01L465.97 439.11" class="rd"/><path d="M465.73 439.29L466.49 438.77" class="s"/><path d="M465.48 439.46L466.74 438.60" class="rd"/><path d="M466.49 438.77L467.26 438.33" class="s"/><path d="M466.23 438.92L467.52 438.18" class="rd"/><path d="M467.26 438.33L468.02 437.99" class="s"/><path d="M466.98 438.45L468.30 437.87" class="rd"/><path d="M468.02 437.99L468.79 437.82" class="s"/><path d="M467.73 438.06L469.08 437.75" class="rd"/><path d="M468.79 437.82L469.55 437.76" class="s"/><path d="M468.49 437.84L469.85 437.74" class="rd"/><path d="M469.55 437.76L470.32 437.78" class="s"/><path d="M469.25 437.76L470.62 437.78" class="rd"/><path d="M470.32 437.78L471.08 437.80" class="s"/><path d="M470.02 437.77L471.38 437.80" class="rd"/><path d="M471.08 437.80L471.85 437.77" class="s"/><path d="M470.78 437.81L472.15 437.76" class="rd"/><path d="M471.85 437.77L472.61 437.64" class="s"/><path d="M471.55 437.82L472.91 437.59" class="rd"/><path d="M472.61 437.64L473.38 437.44" class="s"/><path d="M472.32 437.72L473.67 437.37" class="rd"/><path d="M473.38 437.44L474.14 437.23" class="s"/><path d="M473.09 437.52L474.43 437.15" class="rd"/><path d="M474.14 437.23L474.90 437.06" class="s"/><path d="M473.85 437.29L475.20 436.99" class="rd"/><path d="M474.90 437.06L475.67 436.99" class="s"/><path d="M474.61 437.08L475.97 436.96" class="rd"/><path d="M475.67 436.99L476.43 437.06" class="s"/><path d="M475.37 436.96L476.73 437.09" class="rd"/><path d="M476.43 437.06L477.20 437.27" class="s"/><path d="M476.14 436.99L477.49 437.35" class="rd"/><path d="M477.20 437.27L477.96 437.56" class="s"/><path d="M476.92 437.16L478.24 437.67" class="rd"/><path d="M477.96 437.56L478.73 437.91" class="s"/><path d="M477.69 437.44L479.00 438.03" class="rd"/><path d="M478.73 437.91L479.49 438.27" class="s"/><path d="M478.46 437.78L479.77 438.40" class="rd"/><path d="M479.49 438.27L480.26 438.61" class="s"/><path d="M479.22 438.15L480.53 438.74" class="rd"/><path d="M480.26 438.61L481.02 438.96" class="s"/><path d="M479.99 438.49L481.30 439.09" class="rd"/><path d="M481.02 438.96L481.79 439.33" class="s"/><path d="M480.75 438.83L482.06 439.46" class="rd"/><path d="M481.79 439.33L482.55 439.72" class="s"/><path d="M481.52 439.20L482.82 439.85" class="rd"/><path d="M482.55 439.72L483.32 440.12" class="s"/><path d="M482.29 439.58L483.58 440.26" class="rd"/><path d="M483.32 440.12L484.08 440.55" class="s"/><path d="M483.06 439.98L484.35 440.69" class="rd"/><path d="M484.08 440.55L484.85 441.04" class="s"/><path d="M483.83 440.39L485.10 441.20" class="rd"/><path d="M484.85 441.04L485.61 441.59" class="s"/><path d="M484.60 440.86L485.86 441.77" class="rd"/><path d="M485.61 441.59L486.38 442.13" class="s"/><path d="M485.37 441.42L486.62 442.30" class="rd"/><path d="M486.38 442.13L487.14 442.59" class="s"/><path d="M486.12 441.97L487.40 442.75" class="rd"/><path d="M487.14 442.59L487.91 442.96" class="s"/><path d="M486.87 442.47L488.18 443.09" class="rd"/><path d="M487.91 442.96L488.67 443.23" class="s"/><path d="M487.62 442.86L488.96 443.33" class="rd"/><path d="M488.67 443.23L489.44 443.42" class="s"/><path d="M488.38 443.15L489.73 443.50" class="rd"/><path d="M489.44 443.42L490.20 443.58" class="s"/><path d="M489.14 443.36L490.50 443.64" class="rd"/><path d="M490.20 443.58L490.97 443.73" class="s"/><path d="M489.91 443.53L491.26 443.78" class="rd"/><path d="M490.97 443.73L491.73 443.87" class="s"/><path d="M490.67 443.67L492.03 443.93" class="rd"/><path d="M491.73 443.87L492.50 444.04" class="s"/><path d="M491.44 443.81L492.79 444.10" class="rd"/><path d="M492.50 444.04L493.26 444.23" class="s"/><path d="M492.21 443.96L493.55 444.31" class="rd"/><path d="M493.26 444.23L494.03 444.51" class="s"/><path d="M492.98 444.13L494.31 444.61" class="rd"/><path d="M494.03 444.51L494.79 444.89" class="s"/><path d="M493.76 444.38L495.06 445.02" class="rd"/><path d="M494.79 444.89L495.56 445.38" class="s"/><path d="M494.54 444.73L495.81 445.54" class="rd"/><path d="M495.56 445.38L496.32 446.03" class="s"/><path d="M495.33 445.18L496.55 446.23" class="rd"/><path d="M496.32 446.03L497.09 446.89" class="s"/><path d="M496.12 445.81L497.29 447.12" class="rd"/><path d="M497.09 446.89L497.85 447.99" class="s"/><path d="M496.91 446.65L498.02 448.23" class="rd"/><path d="M497.85 447.99L498.62 449.48" class="s"/><path d="M497.71 447.72L498.75 449.75" class="rd"/><path d="M498.62 449.48L499.38 451.30" class="s"/><path d="M498.50 449.20L499.50 451.58" class="rd"/><path d="M499.38 451.30L500.15 453.39" class="s"/><path d="M499.28 451.02L500.25 453.67" class="rd"/><path d="M500.15 453.39L500.91 455.78" class="s"/><path d="M500.05 453.11L501.00 456.06" class="rd"/><path d="M500.91 455.78L501.68 458.09" class="s"/><path d="M500.82 455.49L501.77 458.38" class="rd"/><path d="M501.68 458.09L502.44 460.25" class="s"/><path d="M501.58 457.81L502.54 460.53" class="rd"/><path d="M502.44 460.25L503.21 462.29" class="s"/><path d="M502.33 459.97L503.31 462.57" class="rd"/><path d="M503.21 462.29L503.97 463.94" class="s"/><path d="M503.08 462.02L504.10 464.22" class="rd"/><path d="M503.97 463.94L504.74 465.33" class="s"/><path d="M503.83 463.68L504.88 465.59" class="rd"/><path d="M504.74 465.33L505.50 466.57" class="s"/><path d="M504.58 465.07L505.66 466.83" class="rd"/><path d="M505.50 466.57L506.26 467.66" class="s"/><path d="M505.33 466.33L506.44 467.91" class="rd"/><path d="M506.26 467.66L507.03 468.60" class="s"/><path d="M506.08 467.43L507.22 468.83" class="rd"/><path d="M507.03 468.60L507.79 469.39" class="s"/><path d="M506.82 468.39L508.00 469.60" class="rd"/><path d="M507.79 469.39L508.56 470.05" class="s"/><path d="M507.57 469.19L508.79 470.25" class="rd"/><path d="M508.56 470.05L509.32 470.63" class="s"/><path d="M508.32 469.87L509.56 470.81" class="rd"/><path d="M509.32 470.63L510.09 471.14" class="s"/><path d="M509.07 470.46L510.34 471.30" class="rd"/><path d="M510.09 471.14L510.85 471.58" class="s"/><path d="M509.83 470.98L511.11 471.73" class="rd"/><path d="M510.85 471.58L511.62 471.97" class="s"/><path d="M510.59 471.45L511.89 472.11" class="rd"/><path d="M511.62 471.97L512.38 472.30" class="s"/><path d="M511.34 471.85L512.66 472.42" class="rd"/><path d="M512.38 472.30L513.15 472.57" class="s"/><path d="M512.10 472.20L513.43 472.67" class="rd"/><path d="M513.15 472.57L513.91 472.77" class="s"/><path d="M512.86 472.49L514.20 472.84" class="rd"/><path d="M513.91 472.77L514.68 472.90" class="s"/><path d="M513.62 472.71L514.97 472.95" class="rd"/><path d="M514.68 472.90L515.44 472.97" class="s"/><path d="M514.38 472.87L515.74 473.00" class="rd"/><path d="M515.44 472.97L516.21 473.00" class="s"/><path d="M515.14 472.96L516.51 473.01" class="rd"/><path d="M516.21 473.00L516.97 472.99" class="s"/><path d="M515.91 473.00L517.27 472.98" class="rd"/><path d="M516.97 472.99L517.74 472.94" class="s"/><path d="M516.67 473.01L518.04 472.91" class="rd"/><path d="M517.74 472.94L518.50 472.85" class="s"/><path d="M517.44 472.97L518.80 472.81" class="rd"/><path d="M518.50 472.85L519.27 472.73" class="s"/><path d="M518.21 472.89L519.56 472.68" class="rd"/><path d="M519.27 472.73L520.03 472.58" class="s"/><path d="M518.97 472.78L520.33 472.52" class="rd"/><path d="M520.03 472.58L520.80 472.41" class="s"/><path d="M519.74 472.65L521.09 472.34" class="rd"/><path d="M520.80 472.41L521.56 472.22" class="s"/><path d="M520.51 472.48L521.85 472.14" class="rd"/><path d="M521.56 472.22L522.33 472.01" class="s"/><path d="M521.27 472.30L522.62 471.93" class="rd"/><path d="M522.33 472.01L523.09 471.77" class="s"/><path d="M522.04 472.09L523.38 471.69" class="rd"/><path d="M523.09 471.77L523.86 471.52" class="s"/><path d="M522.81 471.87L524.14 471.43" class="rd"/><path d="M523.86 471.52L524.62 471.25" class="s"/><path d="M523.57 471.62L524.90 471.15" class="rd"/><path d="M524.62 471.25L525.39 470.97" class="s"/><path d="M524.34 471.36L525.67 470.86" class="rd"/><path d="M525.39 470.97L526.15 470.67" class="s"/><path d="M525.11 471.08L526.43 470.56" class="rd"/><path d="M526.15 470.67L526.92 470.37" class="s"/><path d="M525.87 470.78L527.20 470.26" class="rd"/><path d="M526.92 470.37L527.68 470.05" class="s"/><path d="M526.64 470.48L527.96 469.94" class="rd"/><path d="M527.68 470.05L528.45 469.73" class="s"/><path d="M527.41 470.17L528.72 469.61" class="rd"/><path d="M528.45 469.73L529.21 469.40" class="s"/><path d="M528.17 469.85L529.49 469.28" class="rd"/><path d="M529.21 469.40L529.98 469.05" class="s"/><path d="M528.94 469.52L530.25 468.92" class="rd"/><path d="M529.98 469.05L530.74 468.68" class="s"/><path d="M529.71 469.18L531.01 468.55" class="rd"/><path d="M530.74 468.68L531.51 468.29" class="s"/><path d="M530.47 468.81L531.77 468.16" class="rd"/><path d="M531.51 468.29L532.27 467.90" class="s"/><path d="M531.24 468.43L532.54 467.77" class="rd"/><path d="M532.27 467.90L533.04 467.51" class="s"/><path d="M532.00 468.04L533.30 467.37" class="rd"/><path d="M533.04 467.51L533.80 467.11" class="s"/><path d="M532.77 467.64L534.07 466.97" class="rd"/><path d="M533.80 467.11L534.57 466.72" class="s"/><path d="M533.53 467.25L534.83 466.58" class="rd"/><path d="M534.57 466.72L535.33 466.34" class="s"/><path d="M534.30 466.85L535.60 466.20" class="rd"/><path d="M535.33 466.34L536.10 465.96" class="s"/><path d="M535.06 466.47L536.36 465.83" class="rd"/><path d="M536.10 465.96L536.86 465.59" class="s"/><path d="M535.83 466.09L537.13 465.46" class="rd"/><path d="M536.86 465.59L537.62 465.22" class="s"/><path d="M536.59 465.72L537.90 465.09" class="rd"/><path d="M537.62 465.22L538.39 464.85" class="s"/><path d="M537.36 465.35L538.66 464.72" class="rd"/><path d="M538.39 464.85L539.15 464.47" class="s"/><path d="M538.12 464.98L539.42 464.33" class="rd"/><path d="M539.15 464.47L539.92 464.08" class="s"/><path d="M538.89 464.60L540.19 463.94" class="rd"/><path d="M539.92 464.08L540.68 463.68" class="s"/><path d="M539.65 464.22L540.95 463.54" class="rd"/><path d="M540.68 463.68L541.45 463.27" class="s"/><path d="M540.42 463.82L541.71 463.12" class="rd"/><path d="M541.45 463.27L542.21 462.84" class="s"/><path d="M541.19 463.41L542.48 462.69" class="rd"/><path d="M542.21 462.84L542.98 462.40" class="s"/><path d="M541.95 462.99L543.24 462.25" class="rd"/><path d="M542.98 462.40L543.74 461.95" class="s"/><path d="M542.72 462.55L544.00 461.79" class="rd"/><path d="M543.74 461.95L544.51 461.49" class="s"/><path d="M543.49 462.10L544.77 461.33" class="rd"/><path d="M544.51 461.49L545.27 461.02" class="s"/><path d="M544.25 461.64L545.53 460.87" class="rd"/><path d="M545.27 461.02L546.04 460.55" class="s"/><path d="M545.02 461.18L546.29 460.39" class="rd"/><path d="M546.04 460.55L546.80 460.07" class="s"/><path d="M545.78 460.71L547.06 459.91" class="rd"/><path d="M546.80 460.07L547.57 459.58" class="s"/><path d="M546.55 460.23L547.82 459.42" class="rd"/><path d="M547.57 459.58L548.33 459.10" class="s"/><path d="M547.32 459.75L548.59 458.93" class="rd"/><path d="M548.33 459.10L549.10 458.60" class="s"/><path d="M548.08 459.26L549.35 458.44" class="rd"/><path d="M549.10 458.60L549.86 458.10" class="s"/><path d="M548.85 458.77L550.11 457.94" class="rd"/><path d="M549.86 458.10L550.63 457.59" class="s"/><path d="M549.61 458.27L550.88 457.42" class="rd"/><path d="M550.63 457.59L551.39 457.07" class="s"/><path d="M550.38 457.76L551.64 456.91" class="rd"/><path d="M551.39 457.07L552.16 456.55" class="s"/><path d="M551.15 457.24L552.41 456.38" class="rd"/><path d="M552.16 456.55L552.92 456.03" class="s"/><path d="M551.91 456.72L553.17 455.85" class="rd"/><path d="M552.92 456.03L553.69 455.49" class="s"/><path d="M552.68 456.20L553.93 455.32" class="rd"/><path d="M553.69 455.49L554.45 454.96" class="s"/><path d="M553.44 455.67L554.70 454.79" class="rd"/><path d="M554.45 454.96L555.22 454.43" class="s"/><path d="M554.21 455.13L555.46 454.25" class="rd"/><path d="M555.22 454.43L555.98 453.89" class="s"/><path d="M554.97 454.60L556.23 453.72" class="rd"/><path d="M555.98 453.89L556.75 453.36" class="s"/><path d="M555.74 454.06L556.99 453.19" class="rd"/><path d="M556.75 453.36L557.51 452.82" class="s"/><path d="M556.50 453.53L557.76 452.65" class="rd"/><path d="M557.51 452.82L558.28 452.28" class="s"/><path d="M557.27 452.99L558.52 452.11" class="rd"/><path d="M558.28 452.28L559.04 451.74" class="s"/><path d="M558.03 452.45L559.29 451.56" class="rd"/><path d="M559.04 451.74L559.81 451.19" class="s"/><path d="M558.80 451.91L560.05 451.01" class="rd"/><path d="M559.81 451.19L560.57 450.64" class="s"/><path d="M559.56 451.36L560.81 450.46" class="rd"/><path d="M560.57 450.64L561.34 450.08" class="s"/><path d="M560.33 450.81L561.58 449.91" class="rd"/><path d="M561.34 450.08L562.10 449.53" class="s"/><path d="M561.09 450.26L562.34 449.35" class="rd"/><path d="M562.10 449.53L562.87 448.94" class="s"/><path d="M561.86 449.71L563.10 448.76" class="rd"/><path d="M562.87 448.94L563.63 448.32" class="s"/><path d="M562.63 449.13L563.86 448.14" class="rd"/><path d="M563.63 448.32L564.40 447.70" class="s"/><path d="M563.40 448.51L564.63 447.51" class="rd"/><path d="M564.40 447.70L565.16 447.11" class="s"/><path d="M564.16 447.89L565.40 446.93" class="rd"/><path d="M565.16 447.11L565.93 446.59" class="s"/><path d="M564.91 447.28L566.17 446.42" class="rd"/><path d="M565.93 446.59L566.69 446.15" class="s"/><path d="M565.66 446.73L566.95 446.00" class="rd"/><path d="M566.69 446.15L567.46 445.80" class="s"/><path d="M566.42 446.28L567.73 445.68" class="rd"/><path d="M567.46 445.80L568.22 445.52" class="s"/><path d="M567.17 445.91L568.50 445.41" class="rd"/><path d="M568.22 445.52L568.99 445.28" class="s"/><path d="M567.93 445.60L569.27 445.19" class="rd"/><path d="M568.99 445.28L569.75 445.08" class="s"/><path d="M568.69 445.36L570.04 445.01" class="rd"/><path d="M569.75 445.08L570.51 444.91" class="s"/><path d="M569.46 445.15L570.81 444.84" class="rd"/><path d="M570.51 444.91L571.28 444.74" class="s"/><path d="M570.22 444.97L571.57 444.67" class="rd"/><path d="M571.28 444.74L572.04 444.57" class="s"/><path d="M570.99 444.80L572.34 444.51" class="rd"/><path d="M572.04 444.57L572.81 444.42" class="s"/><path d="M571.75 444.63L573.10 444.36" class="rd"/><path d="M572.81 444.42L573.57 444.30" class="s"/><path d="M572.51 444.47L573.87 444.25" class="rd"/><path d="M573.57 444.30L574.34 444.23" class="s"/><path d="M573.28 444.33L574.64 444.20" class="rd"/><path d="M574.34 444.23L575.10 444.22" class="s"/><path d="M574.04 444.23L575.40 444.22" class="rd"/><path d="M575.10 444.22L575.87 444.30" class="s"/><path d="M574.81 444.19L576.17 444.34" class="rd"/><path d="M575.87 444.30L576.63 444.49" class="s"/><path d="M575.58 444.23L576.93 444.56" class="rd"/><path d="M576.63 444.49L577.40 444.76" class="s"/><path d="M576.35 444.39L577.68 444.87" class="rd"/><path d="M577.40 444.76L578.16 445.11" class="s"/><path d="M577.12 444.64L578.44 445.23" class="rd"/><path d="M578.16 445.11L578.93 445.48" class="s"/><path d="M577.89 444.98L579.20 445.61" class="rd"/><path d="M578.93 445.48L579.69 445.84" class="s"/><path d="M578.66 445.35L579.96 445.97" class="rd"/><path d="M579.69 445.84L580.46 446.23" class="s"/><path d="M579.43 445.71L580.73 446.36" class="rd"/><path d="M580.46 446.23L581.22 446.64" class="s"/><path d="M580.19 446.09L581.49 446.78" class="rd"/><path d="M581.22 446.64L581.99 447.06" class="s"/><path d="M580.96 446.49L582.25 447.21" class="rd"/><path d="M581.99 447.06L582.75 447.49" class="s"/><path d="M581.73 446.91L583.01 447.64" class="rd"/><path d="M582.75 447.49L583.52 447.93" class="s"/><path d="M582.49 447.34L583.78 448.08" class="rd"/><path d="M583.52 447.93L584.28 448.37" class="s"/><path d="M583.26 447.78L584.54 448.52" class="rd"/><path d="M584.28 448.37L585.05 448.82" class="s"/><path d="M584.02 448.23L585.31 448.96" class="rd"/><path d="M585.05 448.82L585.81 449.26" class="s"/><path d="M584.79 448.66L586.07 449.41" class="rd"/><path d="M585.81 449.26L586.58 449.70" class="s"/><path d="M585.55 449.11L586.84 449.85" class="rd"/><path d="M586.58 449.70L587.34 450.16" class="s"/><path d="M586.32 449.55L587.60 450.31" class="rd"/><path d="M587.34 450.16L588.11 450.62" class="s"/><path d="M587.09 450.00L588.36 450.78" class="rd"/><path d="M588.11 450.62L588.87 451.10" class="s"/><path d="M587.85 450.46L589.13 451.26" class="rd"/><path d="M588.87 451.10L589.64 451.59" class="s"/><path d="M588.62 450.94L589.89 451.75" class="rd"/><path d="M589.64 451.59L590.40 452.11" class="s"/><path d="M589.39 451.42L590.65 452.27" class="rd"/><path d="M590.40 452.11L591.17 452.64" class="s"/><path d="M590.16 451.93L591.41 452.81" class="rd"/><path d="M591.17 452.64L591.93 453.19" class="s"/><path d="M590.92 452.47L592.18 453.36" class="rd"/><path d="M591.93 453.19L592.70 453.74" class="s"/><path d="M591.69 453.01L592.94 453.91" class="rd"/><path d="M592.70 453.74L593.46 454.28" class="s"/><path d="M592.45 453.56L593.71 454.46" class="rd"/><path d="M593.46 454.28L594.23 454.82" class="s"/><path d="M593.22 454.11L594.47 454.99" class="rd"/><path d="M594.23 454.82L594.99 455.33" class="s"/><path d="M593.98 454.65L595.24 455.50" class="rd"/><path d="M594.99 455.33L595.76 455.85" class="s"/><path d="M594.74 455.16L596.00 456.02" class="rd"/><path d="M595.76 455.85L596.52 456.37" class="s"/><path d="M595.51 455.69L596.77 456.54" class="rd"/><path d="M596.52 456.37L597.29 456.85" class="s"/><path d="M596.27 456.21L597.54 457.01" class="rd"/><path d="M597.29 456.85L598.05 457.28" class="s"/><path d="M597.02 456.70L598.31 457.42" class="rd"/><path d="M598.05 457.28L598.82 457.64" class="s"/><path d="M597.78 457.15L599.09 457.77" class="rd"/><path d="M598.82 457.64L599.58 457.96" class="s"/><path d="M598.54 457.53L599.86 458.07" class="rd"/><path d="M599.58 457.96L600.35 458.23" class="s"/><path d="M599.30 457.86L600.63 458.33" class="rd"/><path d="M600.35 458.23L601.11 458.47" class="s"/><path d="M600.06 458.14L601.40 458.56" class="rd"/><path d="M601.11 458.47L601.88 458.69" class="s"/><path d="M600.82 458.39L602.16 458.78" class="rd"/><path d="M601.88 458.69L602.64 458.90" class="s"/><path d="M601.59 458.61L602.93 458.98" class="rd"/><path d="M602.64 458.90L603.40 459.10" class="s"/><path d="M602.35 458.83L603.69 459.18" class="rd"/><path d="M603.40 459.10L604.17 459.28" class="s"/><path d="M603.11 459.04L604.46 459.35" class="rd"/><path d="M604.17 459.28L604.93 459.45" class="s"/><path d="M603.88 459.22L605.23 459.51" class="rd"/><path d="M604.93 459.45L605.70 459.60" class="s"/><path d="M604.64 459.39L605.99 459.66" class="rd"/><path d="M605.70 459.60L606.46 459.75" class="s"/><path d="M605.40 459.55L606.76 459.81" class="rd"/><path d="M606.46 459.75L607.23 459.90" class="s"/><path d="M606.17 459.69L607.52 459.95" class="rd"/><path d="M607.23 459.90L607.99 460.00" class="s"/><path d="M606.93 459.86L608.29 460.04" class="rd"/>
</g>
<g><text x="112" y="552.8" class="yl" textLength="6.40" lengthAdjust="spacingAndGlyphs">0</text><text x="112" y="518.8" class="yl" textLength="12.40" lengthAdjust="spacingAndGlyphs">10</text><text x="112" y="484.8" class="yl" textLength="12.40" lengthAdjust="spacingAndGlyphs">20</text><text x="112" y="449.8" class="yl" textLength="12.40" lengthAdjust="spacingAndGlyphs">30</text><text x="112" y="415.8" class="yl" textLength="12.40" lengthAdjust="spacingAndGlyphs">40</text><text x="112" y="381.8" class="yl" textLength="12.40" lengthAdjust="spacingAndGlyphs">50</text><text x="112" y="346.8" class="yl" textLength="12.40" lengthAdjust="spacingAndGlyphs">60</text><text x="112" y="312.8" class="yl" textLength="12.40" lengthAdjust="spacingAndGlyphs">70</text><text x="112" y="278.8" class="yl" textLength="12.40" lengthAdjust="spacingAndGlyphs">80</text><text x="112" y="243.8" class="yl" textLength="12.40" lengthAdjust="spacingAndGlyphs">90</text><text x="112" y="209.8" class="yl" textLength="19.00" lengthAdjust="spacingAndGlyphs">100</text></g>
<g><text x="120.5" y="567" class="xl" textLength="21.20" lengthAdjust="spacingAndGlyphs">7:20</text><text x="120.5" y="579" class="xl" textLength="13.80" lengthAdjust="spacingAndGlyphs">AM</text><text x="157.2" y="567" class="xl" textLength="21.20" lengthAdjust="spacingAndGlyphs">3:20</text><text x="157.2" y="579" class="xl" textLength="12.40" lengthAdjust="spacingAndGlyphs">PM</text><text x="193.9" y="567" class="xl" textLength="26.80" lengthAdjust="spacingAndGlyphs">11:20</text><text x="193.9" y="579" class="xl" textLength="12.40" lengthAdjust="spacingAndGlyphs">PM</text><text x="230.6" y="567" class="xl" textLength="21.20" lengthAdjust="spacingAndGlyphs">7:20</text><text x="230.6" y="579" class="xl" textLength="13.80" lengthAdjust="spacingAndGlyphs">AM</text><text x="267.4" y="567" class="xl" textLength="21.20" lengthAdjust="spacingAndGlyphs">3:20</text><text x="267.4" y="579" class="xl" textLength="12.40" lengthAdjust="spacingAndGlyphs">PM</text><text x="304.1" y="567" class="xl" textLength="26.80" lengthAdjust="spacingAndGlyphs">11:20</text><text x="304.1" y="579" class="xl" textLength="12.40" lengthAdjust="spacingAndGlyphs">PM</text><text x="340.8" y="567" class="xl" textLength="21.20" lengthAdjust="spacingAndGlyphs">7:20</text><text x="340.8" y="579" class="xl" textLength="13.80" lengthAdjust="spacingAndGlyphs">AM</text><text x="377.5" y="567" class="xl" textLength="21.20" lengthAdjust="spacingAndGlyphs">3:20</text><text x="377.5" y="579" class="xl" textLength="12.40" lengthAdjust="spacingAndGlyphs">PM</text><text x="414.2" y="567" class="xl" textLength="26.80" lengthAdjust="spacingAndGlyphs">11:20</text><text x="414.2" y="579" class="xl" textLength="12.40" lengthAdjust="spacingAndGlyphs">PM</text><text x="450.9" y="567" class="xl" textLength="21.20" lengthAdjust="spacingAndGlyphs">7:20</text><text x="450.9" y="579" class="xl" textLength="13.80" lengthAdjust="spacingAndGlyphs">AM</text><text x="487.6" y="567" class="xl" textLength="21.20" lengthAdjust="spacingAndGlyphs">3:20</text><text x="487.6" y="579" class="xl" textLength="12.40" lengthAdjust="spacingAndGlyphs">PM</text><text x="524.4" y="567" class="xl" textLength="26.80" lengthAdjust="spacingAndGlyphs">11:20</text><text x="524.4" y="579" class="xl" textLength="12.40" lengthAdjust="spacingAndGlyphs">PM</text><text x="561.1" y="567" class="xl" textLength="21.20" lengthAdjust="spacingAndGlyphs">7:20</text><text x="561.1" y="579" class="xl" textLength="13.80" lengthAdjust="spacingAndGlyphs">AM</text><text x="597.8" y="567" class="xl" textLength="21.20" lengthAdjust="spacingAndGlyphs">3:20</text><text x="597.8" y="579" class="xl" textLength="12.40" lengthAdjust="spacingAndGlyphs">PM</text><text x="634.5" y="567" class="xl" textLength="26.80" lengthAdjust="spacingAndGlyphs">11:20</text><text x="634.5" y="579" class="xl" textLength="12.40" lengthAdjust="spacingAndGlyphs">PM</text></g>
<text x="294.6" y="173.8" textLength="192" lengthAdjust="spacingAndGlyphs" style="font-size:14px;">ASTM and Anderson Comparison</text>
<text x="376.5" y="595.3" style="font-size:11.5px;text-anchor:middle;">Time</text>
<text transform="translate(77,423.6) rotate(-90)" textLength="95.4" lengthAdjust="spacingAndGlyphs" style="font-size:12px;">Cumulative R-Value</text>
<line x1="660" y1="370" x2="683" y2="370" class="bl" style="stroke-width:2.2"/>
<line x1="660" y1="384.5" x2="683" y2="384.5" class="rd" style="stroke-width:2.2"/>
<text x="686" y="374.6" textLength="48" lengthAdjust="spacingAndGlyphs" style="font-size:11.5px;">ASTM Std</text>
<text x="686" y="389.3" textLength="47" lengthAdjust="spacingAndGlyphs" style="font-size:11.5px;">Anderson</text>
</svg>
</body></html>
